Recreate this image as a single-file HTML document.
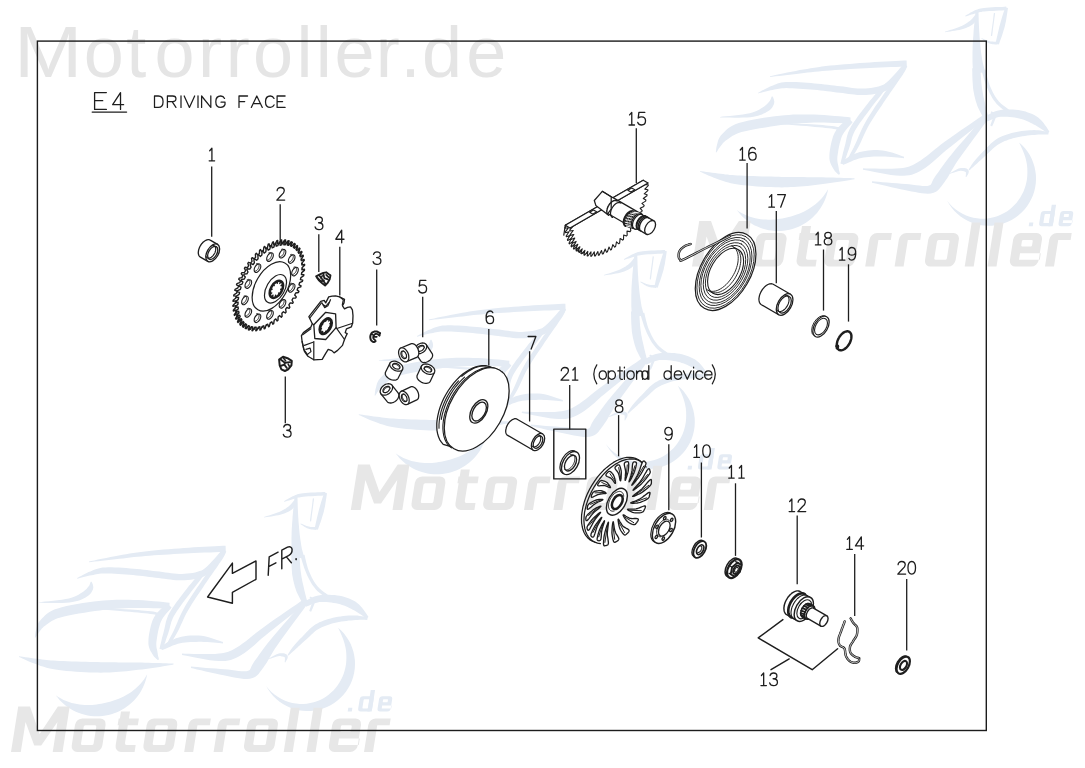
<!DOCTYPE html><html><head><meta charset="utf-8"><title>E4 Driving Face</title>
<style>html,body{margin:0;padding:0;background:#fff;}svg{display:block;}text{font-family:"Liberation Sans",sans-serif;}</style></head><body>
<svg width="1085" height="768" viewBox="0 0 1085 768">
<rect width="1085" height="768" fill="#fff"/>
<defs><g id="logo"><g fill="#e4ebf4"><path d="M770.1,76.9L772.4,76.7L775.5,76.3L779.2,75.9L783.3,75.4L787.6,74.9L792,74.4L796.3,73.9L800.2,73.5L804,73.1L807.6,72.6L811.2,72.2L814.9,71.8L818.6,71.4L822.4,71.1L826.4,70.7L830.6,70.4L835.1,70L839.9,69.7L844.9,69.4L850,69.1L855.1,68.8L860.3,68.5L865.3,68.3L870.2,68L875.1,67.8L880.4,67.5L885.7,67.3L891,67.1L895.9,66.9L900.3,66.7L904,66.6L906.8,66.4L906.6,60.4L903.7,60.5L900,60.7L895.6,60.9L890.7,61.2L885.4,61.4L880.1,61.7L874.8,62L869.8,62.4L865,62.7L859.9,63.1L854.8,63.5L849.6,63.9L844.5,64.3L839.5,64.7L834.7,65.2L830.2,65.6L825.9,66.1L821.9,66.6L818,67.2L814.3,67.7L810.7,68.3L807.1,68.9L803.5,69.5L799.8,70.1L795.8,70.9L791.6,71.7L787.2,72.6L782.9,73.5L778.9,74.3L775.3,75.1L772.2,75.8L769.9,76.3Z"/><path d="M758.3,93.4L759.4,93.1L760.9,92.7L762.7,92.3L764.6,91.8L766.7,91.3L768.7,90.8L770.7,90.3L772.6,89.9L774.3,89.6L775.9,89.3L777.4,88.9L778.9,88.7L780.4,88.5L782.1,88.3L784.1,88.2L786.4,88.1L789.1,88.2L792.3,88.3L795.7,88.5L799.4,88.7L803.1,88.9L806.9,89.2L810.6,89.5L814,89.8L817.3,90.1L820.6,90.5L823.8,90.8L827.1,91.2L830.3,91.6L833.4,92L836.6,92.4L839.6,92.7L842.6,93.1L845.5,93.5L848.5,93.9L851.4,94.3L854.3,94.6L857.2,94.9L860.2,95L863.1,95L866,94.9L868.9,94.7L871.8,94.4L874.7,94L877.5,93.5L880.2,92.8L882.9,92L885.4,90.9L887.7,89.7L889.9,88.2L891.8,86.5L893.5,84.8L895.1,83.1L896.6,81.4L898,79.7L899.3,78.2L900.6,76.6L901.9,74.9L903.1,73.1L904.2,71.4L905.2,69.8L906.1,68.4L906.8,67.3L907.4,66.4L903.6,63.6L902.9,64.5L902,65.6L901,66.9L899.9,68.3L898.7,69.8L897.4,71.3L896.1,72.8L894.7,74.2L893.3,75.7L891.9,77.2L890.5,78.8L889,80.3L887.5,81.8L886,83L884.4,84.2L882.6,85.1L880.7,85.8L878.5,86.5L876.1,87.1L873.6,87.6L871,87.9L868.3,88.2L865.6,88.4L862.9,88.6L860.3,88.6L857.7,88.4L855,88.2L852.2,87.9L849.4,87.5L846.4,87.1L843.4,86.6L840.4,86.3L837.3,85.9L834.2,85.6L831.1,85.2L827.9,84.8L824.6,84.4L821.3,84L818,83.7L814.6,83.4L811.1,83.1L807.4,82.8L803.6,82.5L799.8,82.3L796.1,82.1L792.5,82L789.2,82L786.2,82.1L783.6,82.3L781.4,82.6L779.4,83.1L777.6,83.6L776,84.2L774.5,84.8L773,85.4L771.4,86.1L769.6,86.8L767.7,87.7L765.7,88.7L763.8,89.7L762,90.6L760.4,91.5L759.1,92.3L758.1,92.8Z"/><path d="M720.1,117.5L722.5,117.5L725.9,117.6L729.9,117.6L734.3,117.7L738.8,117.7L743.2,117.6L747.2,117.5L750.5,117.2L753.3,116.8L755.8,116.3L758.1,115.7L760.1,115.1L762,114.4L763.6,113.6L765.1,112.9L766.6,112.1L768,111.3L769.2,110.4L770.4,109.4L771.4,108.4L772.2,107.4L772.9,106.3L773.4,105.3L773.9,104.2L774.2,102.9L774.3,101.6L774.1,100.4L773.9,99.4L773.5,98.4L773.2,97.6L772.9,97L772.7,96.5L771.7,96.5L771.5,97L771.2,97.7L771,98.5L770.7,99.3L770.3,100.1L769.9,100.8L769.5,101.3L769.1,101.8L768.6,102.3L768.1,102.9L767.5,103.6L766.9,104.2L766.2,104.8L765.4,105.5L764.5,106.2L763.4,106.9L762.2,107.7L760.9,108.5L759.5,109.4L758,110.2L756.4,111L754.5,111.8L752.3,112.5L749.9,113.2L746.8,113.8L742.9,114.4L738.6,114.9L734.2,115.4L729.8,115.9L725.8,116.3L722.5,116.6L720.1,116.9Z"/><path d="M716.4,152.4L716.7,151.9L717.2,151.2L717.7,150.4L718.2,149.5L718.8,148.6L719.5,147.7L720.1,146.8L720.8,145.9L721.5,145L722.2,144.2L722.8,143.3L723.5,142.6L724.2,141.9L724.9,141.3L725.8,140.6L727,139.8L728.4,138.8L729.8,137.7L731.2,136.7L732.6,135.8L734.3,134.9L736.2,133.9L738.6,133L741.5,132.1L745.1,131.2L749.6,130.2L754.5,129.2L759.9,128.3L765.4,127.4L770.8,126.5L776,125.7L780.9,125.1L785.3,124.5L789.6,124.1L793.7,123.7L797.8,123.4L801.8,123.1L805.9,122.9L810,122.8L814.3,122.6L818.9,122.6L823.9,122.6L829.1,122.7L834.3,122.9L839.2,123L843.7,123.2L847.4,123.3L850.2,123.4L850.6,117.4L847.8,117.1L844.1,116.8L839.6,116.3L834.7,115.9L829.5,115.4L824.2,115L819.1,114.7L814.3,114.6L810,114.5L805.7,114.4L801.5,114.4L797.3,114.5L793.1,114.6L788.8,114.9L784.4,115.2L779.7,115.7L774.8,116.3L769.4,117L763.8,117.8L758.2,118.8L752.7,119.8L747.6,120.8L742.8,121.9L738.7,123.1L735.3,124.3L732.3,125.7L729.7,127.2L727.6,128.7L725.9,130.2L724.5,131.7L723.2,133L722,134.2L720.8,135.6L719.8,137L719,138.4L718.4,139.7L718,140.9L717.7,142L717.5,143L717.2,144.1L716.9,145.2L716.6,146.4L716.4,147.6L716.2,148.8L716.1,149.8L716,150.8L715.9,151.6L715.8,152.2Z"/><path d="M848.2,118.1L847.2,119L845.8,120.2L844.1,121.7L842.2,123.4L840.1,125.4L838.1,127.5L836.3,129.9L834.8,132.5L833.5,135.3L832.5,138.3L831.6,141.4L830.9,144.6L830.3,147.7L829.8,150.7L829.5,153.5L829.4,156.1L829.4,158.4L829.7,160.6L830.2,162.5L830.8,164.1L831.5,165.6L832.2,166.8L832.9,167.9L833.5,168.9L834.1,170L834.9,171.1L835.7,172L836.5,172.8L837.2,173.4L837.9,173.9L838.4,174.4L838.8,174.7L840,174.1L839.8,173.5L839.7,172.8L839.5,172L839.2,171.1L839,170.2L838.8,169.2L838.7,168.2L838.5,167.1L838.3,165.8L838,164.5L837.7,163.3L837.5,162.1L837.4,160.9L837.3,159.6L837.3,158.2L837.4,156.5L837.7,154.4L838.1,151.9L838.5,149.2L839.1,146.3L839.7,143.4L840.5,140.7L841.2,138.2L842,136.1L843,134.2L844.2,132.2L845.7,130.3L847.3,128.3L848.9,126.5L850.3,124.9L851.6,123.4L852.6,122.3Z"/><path d="M903.5,65L903.3,65.5L903.2,66L903.1,66.3L903,66.6L902.7,67.1L902.3,68L901.5,69.2L900.4,70.9L898.8,73.2L896.9,75.9L894.6,79.1L892.1,82.5L889.5,86.1L886.9,89.7L884.3,93.3L882,96.7L879.8,100L877.5,103.3L875.2,106.6L873,110L870.9,113.3L868.8,116.5L866.8,119.8L865,122.9L863.4,125.9L861.9,129L860.5,131.9L859.3,134.8L858.1,137.6L857,140.2L855.9,142.7L854.8,145.1L853.7,147.4L852.5,149.7L851.3,151.9L850.2,154L849.2,156L848.2,157.7L847.4,159.2L846.8,160.3L849.2,161.7L849.9,160.6L850.8,159.2L851.9,157.6L853.1,155.7L854.4,153.7L855.8,151.5L857.1,149.2L858.4,146.9L859.7,144.5L860.9,142L862.1,139.3L863.3,136.6L864.6,133.8L865.9,130.9L867.4,128L869,125.1L870.8,122.1L872.7,119L874.8,115.8L876.9,112.5L879.1,109.2L881.4,105.9L883.6,102.6L885.8,99.3L888.1,95.9L890.6,92.3L893.1,88.7L895.7,85L898.1,81.6L900.3,78.3L902.3,75.5L903.8,73.1L904.9,71.2L905.7,69.7L906.2,68.6L906.4,67.6L906.5,66.9L906.5,66.4L906.5,66.2L906.5,66Z"/><path d="M888.2,81.3L887.7,81.8L887.1,82.3L886.4,82.9L885.5,83.6L884.5,84.5L883.4,85.5L882.2,86.7L880.8,88.1L879.3,89.8L877.7,91.7L875.8,93.8L873.9,96L871.9,98.4L869.8,100.8L867.8,103.4L865.8,105.9L863.9,108.5L861.8,111.2L859.6,114.1L857.4,117L855.4,119.9L853.4,122.8L851.6,125.6L850.1,128.2L848.9,130.7L848,133.1L847.3,135.3L846.7,137.4L846.3,139.4L845.9,141.3L845.5,143.3L845,145.3L844.4,147.6L843.7,150.2L843,152.8L842.4,155.5L841.8,158L841.2,160.2L840.8,162.1L840.4,163.5L843.6,164.5L844,163.1L844.7,161.2L845.4,159L846.3,156.6L847.1,154L848,151.5L848.9,149L849.6,146.7L850.3,144.5L850.8,142.5L851.3,140.5L851.8,138.6L852.3,136.8L853,134.9L853.8,132.9L854.9,130.8L856.3,128.4L858,125.8L859.8,123.1L861.9,120.2L864,117.3L866.1,114.5L868.2,111.7L870.2,109.1L872,106.6L873.9,104.1L875.9,101.6L877.8,99.2L879.6,96.9L881.3,94.7L882.8,92.7L884.2,90.9L885.3,89.3L886.3,87.9L887.1,86.7L887.8,85.7L888.4,84.7L888.9,83.9L889.4,83.2L889.8,82.7Z"/><path d="M770,123.4L773.2,123.6L777.7,124L783,124.4L788.9,124.8L794.9,125.3L800.9,125.7L806.3,126.1L810.9,126.5L814.9,126.9L818.8,127.3L822.4,127.6L825.7,128L828.7,128.3L831.4,128.6L833.8,129L835.7,129.3L837.1,129.7L838,130L838.3,130.3L838.4,130.4L838.4,130.4L838.4,130.7L838.6,131.3L838.9,131.8L841.1,130.2L841.1,130.2L841.1,130.2L841,129.7L840.7,129L840.1,128.2L839.2,127.6L837.9,127.1L836.3,126.7L834.2,126.3L831.8,126L829,125.7L825.9,125.4L822.6,125.1L819,124.8L815.1,124.5L811.1,124.3L806.4,124L801,123.7L795,123.5L789,123.3L783.1,123.1L777.8,122.9L773.3,122.7L770,122.6Z"/><path d="M843.3,164.8L844.7,164.2L846.6,163.4L848.8,162.4L851.2,161.4L853.7,160.3L856.3,159.4L858.9,158.5L861.2,157.9L863.6,157.5L866.2,157.2L868.8,156.9L871.5,156.7L874.2,156.6L876.9,156.6L879.7,156.5L882.3,156.5L885,156.6L888,156.7L891.1,157L894.2,157.2L897.2,157.5L899.9,157.8L902.2,158L903.9,158.2L904.1,156.8L902.5,156.3L900.4,155.5L897.9,154.6L895,153.6L892,152.6L888.8,151.7L885.7,150.9L882.7,150.5L879.8,150.2L876.9,150.1L874,150.1L871.1,150.3L868.2,150.5L865.3,150.9L862.5,151.4L859.8,152.1L857,152.9L854.2,154.1L851.5,155.4L849,156.8L846.6,158.2L844.5,159.4L842.8,160.5L841.5,161.2Z"/><path d="M699.9,171.6L701.4,172.3L703.4,173.2L705.7,174.2L708.3,175.4L711.1,176.6L713.9,177.7L716.7,178.8L719.3,179.8L721.7,180.6L723.9,181.3L726.1,182L728.4,182.6L730.8,183.2L733.5,183.8L736.4,184.3L739.7,184.8L743.5,185.2L747.7,185.6L752.3,186L757,186.4L761.8,186.7L766.4,186.9L770.8,187.1L774.9,187.3L778.5,187.3L781.8,187.4L784.9,187.3L787.9,187.3L790.8,187.1L793.8,187L796.8,186.8L800.2,186.5L803.7,186.2L807.5,185.9L811.3,185.5L815.2,185L819.1,184.5L823,184.1L826.7,183.6L830.2,183.1L833.6,182.6L837.2,182.1L840.8,181.6L844.2,181L847.4,180.5L850.3,180L852.7,179.6L854.5,179.3L854.5,178.3L852.6,178.2L850.2,178.1L847.3,178L844,177.9L840.5,177.8L837,177.7L833.3,177.6L829.8,177.5L826.3,177.4L822.6,177.3L818.7,177.3L814.8,177.2L810.9,177.2L807.1,177.2L803.4,177.1L799.8,177.1L796.6,177L793.5,177L790.6,177L787.7,177L784.9,176.9L781.9,176.9L778.7,176.8L775.1,176.7L771.2,176.6L766.8,176.5L762.2,176.4L757.5,176.3L752.8,176.1L748.3,176L744.2,175.8L740.5,175.6L737.4,175.4L734.6,175.3L732.1,175.1L729.8,174.9L727.6,174.6L725.4,174.4L723.1,174.1L720.7,173.8L718,173.5L715.1,173.1L712.1,172.7L709.2,172.3L706.4,171.9L703.8,171.5L701.7,171.2L700.1,171Z"/><path d="M862.9,169.7L865.9,170.2L869.9,171L874.7,172L880,173L885.5,174L890.9,174.9L895.9,175.5L900.1,175.7L903.6,175.7L906.5,175.6L909.2,175.2L911.8,174.7L914.3,173.8L916.8,172.8L919.3,171.4L922.3,169.8L925.5,167.7L928.8,165.2L932.2,162.5L935.6,159.6L939,156.5L942.6,153.3L946.4,150.1L950.3,146.9L954.7,143.5L959.7,139.5L965.1,135.3L970.5,131L975.7,127L980.5,123.3L984.5,120.2L987.4,117.9L984.6,114.1L981.5,116.2L977.4,119.1L972.4,122.5L967,126.2L961.3,130.1L955.7,134L950.4,137.7L945.7,141.1L941.6,144.1L937.6,147.2L933.8,150.3L930.2,153.2L926.8,155.9L923.6,158.3L920.6,160.4L917.7,162.2L915.1,163.7L912.9,164.9L911,165.8L909.3,166.5L907.5,167L905.5,167.5L902.9,167.9L899.9,168.3L896,168.6L891.3,168.8L886,168.8L880.5,168.7L875.1,168.6L870.2,168.5L866.1,168.4L863.1,168.3Z"/><path d="M871.9,182.7L874.5,183.3L877.9,184.1L882.1,185L886.7,186.1L891.4,187.2L896.2,188.3L900.6,189.2L904.6,190L908.1,190.7L911.6,191.4L915.1,192.1L918.4,192.8L921.7,193.3L924.9,193.6L927.9,193.7L930.9,193.5L933.6,192.8L936,191.7L938,190.2L939.6,188.6L940.8,187L942,185.5L943.1,183.9L944.4,182.2L945.9,180L947.5,177.7L949,175.2L950.5,172.5L952.1,169.7L953.9,166.7L956,163.3L958.5,159.6L961.6,155.2L965.4,150L969.6,144.2L974,138.2L978.3,132.4L982.2,127.1L985.5,122.7L987.8,119.5L984.2,116.5L981.5,119.5L977.9,123.7L973.6,128.6L968.9,134.1L964,139.7L959.3,145.1L955,150.1L951.5,154.4L948.6,158L946.1,161.3L943.9,164.3L941.9,167L940.1,169.5L938.6,171.8L937.1,173.8L935.6,175.8L934.2,178L933,180L932.2,181.7L931.7,183L931.3,183.8L930.9,184.4L930.3,185L929.1,185.5L927.4,185.9L925.1,186L922.5,185.9L919.5,185.6L916.2,185.2L912.7,184.8L909.1,184.3L905.4,184L901.4,183.7L896.9,183.3L892.1,183L887.2,182.6L882.5,182.2L878.3,181.8L874.7,181.5L872.1,181.3Z"/><path d="M950.1,173.8L951,173.5L952.1,173.1L953.4,172.7L954.9,172.2L956.4,171.7L957.9,171.3L959.2,171L960.2,170.8L961.2,170.8L962.1,170.9L963,171.1L963.8,171.3L964.6,171.5L965.1,171.7L965.5,172L965.6,172L965.7,171.9L965.9,172.2L965.9,172.9L965.9,173.8L965.9,174.7L965.8,175.6L965.7,176.4L965.7,176.9L966.3,177.1L966.6,176.6L967,176L967.4,175.2L967.9,174.4L968.4,173.4L968.7,172.4L968.8,171.2L968.4,170L967.6,169.2L966.6,168.6L965.6,168.2L964.5,168L963.4,167.9L962.2,167.9L961,168L959.8,168.2L958.5,168.6L957.1,169.2L955.7,169.9L954.2,170.7L952.9,171.4L951.6,172.2L950.6,172.8L949.9,173.2Z"/><path d="M945.2,32.2L946.4,32L948.1,31.7L950.2,31.4L952.4,31.1L954.8,30.7L957.1,30.3L959.3,29.9L961.2,29.4L962.9,28.9L964.5,28.4L966,27.9L967.5,27.3L968.9,26.7L970.2,26L971.4,25.3L972.6,24.5L973.7,23.5L974.7,22.4L975.5,21.3L976.2,20.2L976.8,19.2L977.3,18.3L977.7,17.5L978,17L975.2,15L974.7,15.5L974.2,16.2L973.6,17L972.9,17.8L972.2,18.7L971.4,19.5L970.6,20.3L969.8,20.9L968.9,21.6L967.9,22.3L966.9,23.1L965.7,23.8L964.5,24.5L963.1,25.2L961.7,25.9L960.2,26.6L958.5,27.3L956.5,28L954.3,28.8L952.1,29.5L949.9,30.1L947.9,30.7L946.3,31.3L945,31.6Z"/><path d="M965.5,16.6L966.3,16.3L967.3,16L968.6,15.5L970,15.1L971.4,14.6L972.9,14.2L974.2,13.8L975.5,13.4L976.6,13.1L977.6,12.8L978.4,12.5L979.3,12.3L980.2,12.1L981.3,11.9L982.7,11.6L984.4,11.4L986.6,11.2L989.5,11L992.6,10.9L995.9,10.7L999.1,10.5L1002.1,10.4L1004.6,10.2L1006.4,10.2L1006.2,6.6L1004.4,6.7L1001.9,6.9L999,7L995.7,7.1L992.4,7.3L989.2,7.5L986.4,7.7L984,8L982.2,8.2L980.7,8.5L979.4,8.7L978.4,9L977.4,9.4L976.5,9.7L975.6,10.1L974.5,10.6L973.2,11.2L971.9,11.9L970.5,12.6L969.2,13.4L967.9,14.2L966.8,14.8L965.8,15.4L965.1,15.8Z"/><path d="M1005.2,7.3L1004.7,8.6L1004.2,10.4L1003.5,12.5L1002.8,14.8L1002,17.3L1001.3,19.8L1000.6,22.3L999.9,24.7L999.3,27.1L998.7,29.7L998,32.4L997.4,35.2L996.8,37.7L996.3,40.1L995.8,42.1L995.5,43.5L998.9,44.5L999.4,43L1000,41.1L1000.8,38.9L1001.7,36.4L1002.6,33.7L1003.4,31L1004.2,28.4L1004.9,25.9L1005.4,23.5L1006,21L1006.4,18.3L1006.8,15.8L1007.2,13.3L1007.5,11.1L1007.8,9.3L1008,7.9Z"/><path d="M997.6,41.7L997,41.7L996.1,41.7L995.1,41.7L994,41.7L992.9,41.6L991.8,41.6L990.7,41.4L989.7,41.3L988.7,41L987.6,40.6L986.5,40.2L985.3,39.7L984.2,39.2L983.2,38.8L982.4,38.4L981.8,38.1L981.4,38.7L982,39.1L982.8,39.6L983.7,40.2L984.7,40.9L985.7,41.6L986.9,42.3L988,42.9L989.1,43.3L990.2,43.7L991.4,44L992.6,44.2L993.8,44.3L995,44.4L996,44.5L996.8,44.6L997.4,44.7Z"/><path d="M993.9,12.9L993.6,14.9L993.3,17.6L992.9,20.9L992.4,24.4L991.9,28L991.5,31.2L991.1,34L990.9,35.9L992.1,36.1L992.4,34.1L992.7,31.4L993.1,28.1L993.6,24.6L994.1,21L994.5,17.8L994.9,15L995.1,13.1Z"/><path d="M975.5,11.9L975.4,13.1L975.2,14.6L975,16.3L974.8,18.3L974.6,20.4L974.4,22.6L974.2,24.8L974,27L973.8,29.1L973.6,31.3L973.5,33.6L973.3,35.9L973.1,38.2L973,40.5L972.8,42.8L972.7,45.1L972.6,47.4L972.6,49.6L972.5,51.9L972.5,54.2L972.5,56.4L972.5,58.6L972.5,60.6L972.5,62.5L972.6,64.4L972.7,66.2L972.8,68L972.9,69.6L973.1,71L973.2,72.3L973.3,73.3L973.3,74.1L985.3,71.9L985,71.1L984.7,70L984.4,68.9L984,67.6L983.6,66.1L983.2,64.6L982.8,63.1L982.5,61.5L982.2,59.8L981.9,57.8L981.6,55.8L981.3,53.7L981,51.5L980.7,49.3L980.5,47.1L980.3,44.9L980.1,42.7L979.9,40.5L979.7,38.2L979.5,35.9L979.4,33.6L979.2,31.3L979.1,29.1L979,27L978.9,24.9L978.8,22.8L978.7,20.6L978.7,18.4L978.6,16.5L978.6,14.7L978.5,13.2L978.5,12.1Z"/><path d="M972.2,68.2L972.2,69.8L972.3,71.9L972.3,74.4L972.4,77.2L972.5,80.2L972.7,83.1L972.9,86L973.1,88.6L973.5,90.9L973.9,93.1L974.3,95.3L974.8,97.3L975.3,99.3L975.8,101.3L976.5,103.2L977.1,105.2L977.9,107.2L978.9,109.2L979.9,111.2L980.9,113.2L981.9,115L982.8,116.6L983.6,117.9L984.1,118.9L988.5,117.1L988.2,116L987.8,114.5L987.3,112.8L986.8,110.8L986.3,108.8L985.8,106.7L985.3,104.7L984.9,102.8L984.5,101L984.1,99.2L983.6,97.3L983.2,95.4L982.9,93.5L982.5,91.6L982.2,89.5L981.9,87.4L981.6,85.1L981.3,82.5L981.1,79.6L980.9,76.8L980.7,74L980.5,71.5L980.4,69.4L980.2,67.8Z"/><path d="M981.5,70.5L981.9,71.8L982.4,73.6L983,75.6L983.7,78L984.5,80.4L985.3,82.9L986.2,85.3L987.1,87.5L988,89.6L989,91.7L990,93.7L991.1,95.8L992.3,97.9L993.6,99.9L995,101.8L996.5,103.7L998.3,105.6L1000.5,107.4L1002.7,109.3L1005.1,111L1007.3,112.7L1009.4,114.1L1011,115.3L1012.3,116.2L1014.3,113.4L1013.1,112.5L1011.3,111.3L1009.3,109.9L1007.1,108.3L1004.8,106.6L1002.6,104.9L1000.6,103.2L998.9,101.5L997.5,99.8L996.2,98L995,96.2L993.9,94.3L992.8,92.3L991.9,90.3L991,88.3L990.1,86.3L989.3,84.2L988.5,81.8L987.9,79.4L987.2,77L986.7,74.7L986.2,72.6L985.8,70.8L985.5,69.5Z"/><path d="M987.1,121.5L988.2,121L989.6,120.4L991.2,119.7L993,118.9L994.9,118.2L996.8,117.6L998.7,117.1L1000.5,116.8L1002.5,116.7L1004.8,116.7L1007.2,116.8L1009.7,117L1012.2,117.3L1014.7,117.6L1017,118L1019.2,118.5L1021.2,119L1023.1,119.6L1025,120.3L1026.8,121L1028.6,121.8L1030.4,122.7L1032.1,123.5L1033.8,124.4L1035.5,125.3L1037.4,126.4L1039.4,127.7L1041.4,129L1043.3,130.3L1045,131.6L1046.4,132.6L1047.6,133.4L1049.4,131.4L1048.7,130.4L1047.7,128.9L1046.5,127.1L1045.1,125.2L1043.6,123.1L1041.9,121.1L1040.1,119.2L1038.2,117.6L1036.3,116.3L1034.3,115.1L1032.2,114.1L1030.1,113.2L1027.9,112.4L1025.6,111.6L1023.2,111L1020.8,110.5L1018.3,110.1L1015.6,109.8L1012.9,109.6L1010.1,109.5L1007.3,109.5L1004.6,109.6L1002,109.8L999.5,110.2L997.1,110.7L994.7,111.5L992.5,112.5L990.5,113.5L988.7,114.5L987.1,115.3L985.8,116.1L984.9,116.5Z"/><path d="M1048.6,131.9L1047.6,131.7L1046.2,131.5L1044.6,131.2L1042.7,130.9L1040.7,130.6L1038.5,130.3L1036.3,130.2L1034.1,130.1L1031.8,130.2L1029.4,130.3L1026.9,130.5L1024.2,130.8L1021.6,131.1L1019,131.5L1016.4,131.9L1014,132.5L1011.6,133.1L1009.3,133.7L1007,134.4L1004.8,135.2L1002.6,136.1L1000.4,137L998.3,138.1L996.3,139.3L994.3,140.7L992.4,142.2L990.6,143.8L989,145.4L987.4,147L985.9,148.7L984.4,150.2L983.1,151.6L981.7,153L980.4,154.3L979.1,155.7L977.9,157L976.8,158.3L975.7,159.5L974.7,160.7L973.8,161.8L972.9,163L972,164.2L971.3,165.3L970.6,166.4L969.9,167.4L969.4,168.3L969,169.1L968.6,169.7L969.4,170.3L969.9,169.9L970.6,169.3L971.3,168.6L972.2,167.8L973.2,166.9L974.2,166L975.2,165.1L976.2,164.2L977.3,163.2L978.5,162.1L979.6,161L980.9,159.9L982.2,158.7L983.5,157.5L984.9,156.3L986.3,155L987.8,153.6L989.4,152.1L991,150.6L992.5,149.1L994.2,147.6L995.8,146.2L997.4,145L999.1,143.9L1000.9,142.9L1002.8,142L1004.7,141.1L1006.7,140.4L1008.8,139.6L1010.9,138.9L1013,138.3L1015.2,137.7L1017.5,137.2L1019.9,136.7L1022.4,136.3L1024.9,135.9L1027.4,135.6L1029.8,135.3L1032.2,135.1L1034.3,134.9L1036.4,134.7L1038.4,134.6L1040.5,134.5L1042.4,134.5L1044.3,134.5L1045.9,134.5L1047.3,134.6L1048.4,134.5Z"/><path d="M990.5,112.2L990.9,112.6L991.3,113L991.8,113.5L992.3,114L992.7,114.5L993,115.1L993.1,115.5L993.2,116L993.1,116.8L992.8,118L992.4,119.4L991.9,120.8L991.4,122.3L990.9,123.7L990.5,124.8L990.3,125.6L992.1,126.4L992.5,125.6L993,124.5L993.6,123.2L994.2,121.7L994.8,120.2L995.4,118.7L995.7,117.3L995.8,116L995.6,114.8L995.1,113.8L994.4,113L993.6,112.4L992.9,112L992.3,111.7L991.8,111.4L991.5,111.2Z"/><path d="M1019.1,142.4L1022.2,145.3L1025,148.3L1027.5,151.6L1029.8,155.1L1031.7,158.8L1033.2,162.7L1034.5,166.7L1035.3,170.7L1035.9,174.9L1036,179L1035.8,183.2L1035.2,187.3L1034.3,191.3L1033,195.3L1031.3,199.1L1029.3,202.8L1027.1,206.2L1024.5,209.5L1021.6,212.5L1018.5,215.3L1015.2,217.8L1011.6,219.9L1007.9,221.8L1004,223.3L1000,224.4L995.9,225.3L991.8,225.7L987.6,225.8L983.5,225.5L979.4,224.9L975.4,223.8L971.4,222.5L967.6,220.8L964,218.8L960.6,216.4L957.3,213.8L954.4,210.9L951.7,207.7L949.2,204.3L947.1,200.8L947.1,200.8L949.8,204L952.7,206.9L955.8,209.5L959.1,211.8L962.5,213.8L966.1,215.4L969.7,216.7L973.3,217.7L977,218.3L980.6,218.7L984.3,218.7L987.8,218.4L991.3,217.8L994.7,217L997.9,216L1001.1,214.6L1004.1,213.1L1006.9,211.4L1009.6,209.4L1012.1,207.3L1014.4,205.1L1016.6,202.7L1018.5,200.1L1020.3,197.4L1021.9,194.6L1023.4,191.7L1024.6,188.6L1025.6,185.5L1026.4,182.3L1027,178.9L1027.3,175.5L1027.4,172.1L1027.3,168.5L1027,164.9L1026.3,161.3L1025.4,157.6L1024.2,153.9L1022.7,150.2L1021,146.5L1019.1,142.4Z"/><path d="M828.2,188.9L827.6,191.8L826.8,194.7L825.9,197.5L824.8,200.3L823.5,203L822.1,205.6L820.6,208.1L818.8,210.6L817,212.9L815,215.1L812.9,217.2L810.6,219.2L808.3,221L805.9,222.7L803.3,224.3L800.7,225.7L798,226.9L795.2,228L792.4,228.9L789.5,229.7L786.5,230.3L783.6,230.7L780.6,230.9L777.6,231L774.7,230.9L771.7,230.6L768.7,230.2L765.8,229.5L763,228.7L760.1,227.8L757.4,226.6L754.7,225.4L752.1,223.9L749.6,222.3L747.1,220.6L744.8,218.7L742.6,216.7L740.5,214.6L738.6,212.3L736.7,210L736.7,210L739.3,211.7L742,213.3L744.6,214.6L747.3,215.8L750,216.8L752.7,217.6L755.4,218.3L758,218.8L760.7,219.2L763.2,219.5L765.8,219.6L768.2,219.7L770.7,219.7L773.1,219.6L775.4,219.4L777.7,219.1L780,218.8L782.2,218.4L784.5,218L786.7,217.5L788.8,217L791,216.4L793.2,215.7L795.4,215L797.6,214.3L799.8,213.4L802,212.5L804.2,211.4L806.4,210.3L808.6,209L810.8,207.6L813,206.1L815.1,204.5L817.2,202.7L819.3,200.8L821.3,198.7L823.2,196.5L825,194.1L826.7,191.5L828.2,188.9Z"/></g><g fill="#e7e7e7" fill-rule="evenodd"><path transform="translate(692,266.6) skewX(-9)" d="M0,0V-45.5H11.8L25.8,-18L39.7,-45.5H51.5V0H41.7V-30L29.2,-6.5H22.2L9.8,-30V0Z"/><path transform="translate(751.7,266.6) skewX(-9)" d="M6.5,-33.5h17.6a6.5,6.5 0 0 1 6.5,6.5v20.5a6.5,6.5 0 0 1 -6.5,6.5h-17.6a6.5,6.5 0 0 1 -6.5,-6.5v-20.5a6.5,6.5 0 0 1 6.5,-6.5zM10.5,-26.7h9.6a1.5,1.5 0 0 1 1.5,1.5v16.9a1.5,1.5 0 0 1 -1.5,1.5h-9.6a1.5,1.5 0 0 1 -1.5,-1.5v-16.9a1.5,1.5 0 0 1 1.5,-1.5z"/><path transform="translate(795.6,266.6) skewX(-9)" d="M0,-6.5V-26.7H-1.2V-33.5H0V-40.5H9V-33.5H19V-26.7H9V-8.8a2,2 0 0 0 2,2H20V0H6.5a6.5,6.5 0 0 1 -6.5,-6.5Z"/><path transform="translate(823.4,266.6) skewX(-9)" d="M6.5,-33.5h17.6a6.5,6.5 0 0 1 6.5,6.5v20.5a6.5,6.5 0 0 1 -6.5,6.5h-17.6a6.5,6.5 0 0 1 -6.5,-6.5v-20.5a6.5,6.5 0 0 1 6.5,-6.5zM10.5,-26.7h9.6a1.5,1.5 0 0 1 1.5,1.5v16.9a1.5,1.5 0 0 1 -1.5,1.5h-9.6a1.5,1.5 0 0 1 -1.5,-1.5v-16.9a1.5,1.5 0 0 1 1.5,-1.5z"/><path transform="translate(865.2,266.6) skewX(-9)" d="M0,0V-27a6.5,6.5 0 0 1 6.5,-6.5H21.4V-26.7H9V0Z"/><path transform="translate(894.6,266.6) skewX(-9)" d="M0,0V-27a6.5,6.5 0 0 1 6.5,-6.5H21.4V-26.7H9V0Z"/><path transform="translate(924,266.6) skewX(-9)" d="M6.5,-33.5h17.6a6.5,6.5 0 0 1 6.5,6.5v20.5a6.5,6.5 0 0 1 -6.5,6.5h-17.6a6.5,6.5 0 0 1 -6.5,-6.5v-20.5a6.5,6.5 0 0 1 6.5,-6.5zM10.5,-26.7h9.6a1.5,1.5 0 0 1 1.5,1.5v16.9a1.5,1.5 0 0 1 -1.5,1.5h-9.6a1.5,1.5 0 0 1 -1.5,-1.5v-16.9a1.5,1.5 0 0 1 1.5,-1.5z"/><path transform="translate(964.7,266.6) skewX(-9)" d="M0,0V-44.2H9V0Z"/><path transform="translate(987.5,266.6) skewX(-9)" d="M0,0V-44.2H9V0Z"/><path transform="translate(1008.9,266.6) skewX(-9)" d="M6.5,-33.5h15.8a6.5,6.5 0 0 1 6.5,6.5v20.5a6.5,6.5 0 0 1 -6.5,6.5h-15.8a6.5,6.5 0 0 1 -6.5,-6.5v-20.5a6.5,6.5 0 0 1 6.5,-6.5zM10.2,-26.7h8.4a1.2,1.2 0 0 1 1.2,1.2v4.2a1.2,1.2 0 0 1 -1.2,1.2h-8.4a1.2,1.2 0 0 1 -1.2,-1.2v-4.2a1.2,1.2 0 0 1 1.2,-1.2zM9,-13.3H29.8V-6.8H9Z"/><path transform="translate(1045,266.6) skewX(-9)" d="M0,0V-27a6.5,6.5 0 0 1 6.5,-6.5H21.4V-26.7H9V0Z"/></g><g fill="#e4ebf4" fill-rule="evenodd" transform="translate(1028.7,226.2) skewX(-9) scale(0.456)"><path d="M0,0V-8H9V0Z"/><g transform="translate(22,0)"><path d="M6.5,-33.5h17.6a6.5,6.5 0 0 1 6.5,6.5v20.5a6.5,6.5 0 0 1 -6.5,6.5h-17.6a6.5,6.5 0 0 1 -6.5,-6.5v-20.5a6.5,6.5 0 0 1 6.5,-6.5zM10.5,-26.7h9.6a1.5,1.5 0 0 1 1.5,1.5v16.9a1.5,1.5 0 0 1 -1.5,1.5h-9.6a1.5,1.5 0 0 1 -1.5,-1.5v-16.9a1.5,1.5 0 0 1 1.5,-1.5z"/><path d="M21.1,0V-47H30.6V0Z"/></g><g transform="translate(64.5,0)"><path d="M6.5,-33.5h15.8a6.5,6.5 0 0 1 6.5,6.5v20.5a6.5,6.5 0 0 1 -6.5,6.5h-15.8a6.5,6.5 0 0 1 -6.5,-6.5v-20.5a6.5,6.5 0 0 1 6.5,-6.5zM10.2,-26.7h8.4a1.2,1.2 0 0 1 1.2,1.2v4.2a1.2,1.2 0 0 1 -1.2,1.2h-8.4a1.2,1.2 0 0 1 -1.2,-1.2v-4.2a1.2,1.2 0 0 1 1.2,-1.2zM9,-13.3H29.8V-6.8H9Z"/></g></g></g></defs>
<g font-size="72" fill="#e5e5e5"><text transform="translate(14.1,77) scale(1.14,1)">M</text><text y="77" x="83.7 126.3 154.4 198.1 225.7 253 296.6 315.8 334.4 375.8 400.4 421.9 466.2">otorroller.de</text></g>
<use href="#logo"/>
<use href="#logo" transform="translate(-681,485.3)"/>
<use href="#logo" transform="translate(-341.2,243.3)"/>
<rect x="37.4" y="41.1" width="948.9" height="689.4" fill="none" stroke="#1c1c1c" stroke-width="1.4"/>
<g fill="none" stroke="#1e1e1e" stroke-linecap="round" stroke-linejoin="round"><path transform="translate(94.6,92.6) scale(1.4)" stroke-width="0.93" d="M8.4,0H0V12H8.4M0,5.8H5.8"/><path transform="translate(112.4,92.6) scale(1.4)" stroke-width="0.93" d="M5.8,12V0L0.2,8.6H8"/><path d="M92.2,112.1H126.6" stroke-width="1.3"/><path transform="translate(154.5,96) scale(0.95)" stroke-width="1.32" d="M0,0V12H4C7.5,12 9,9.5 9,6C9,2.5 7.5,0 4,0H0"/><path transform="translate(167.4,96) scale(0.95)" stroke-width="1.32" d="M0,12V0H5.5C8,0 9,1.2 9,3C9,4.8 8,6 5.5,6H0M5,6L9,12"/><path transform="translate(181,96) scale(0.95)" stroke-width="1.32" d="M0,0V12"/><path transform="translate(184.2,96) scale(0.95)" stroke-width="1.32" d="M0,0L5.5,12L11,0"/><path transform="translate(198,96) scale(0.95)" stroke-width="1.32" d="M0,0V12"/><path transform="translate(201.6,96) scale(0.95)" stroke-width="1.32" d="M0,12V0L9.7,12V0"/><path transform="translate(215.8,96) scale(0.95)" stroke-width="1.32" d="M9.2,2.6C8.4,0.9 7,0 5.2,0C2,0 0,2.4 0,6C0,9.6 2,12 5.2,12C7.4,12 9,10.8 9.7,9V6.5H5.5"/><path transform="translate(239,96) scale(0.95)" stroke-width="1.32" d="M0,12V0H9M0,5.8H6"/><path transform="translate(251.3,96) scale(0.95)" stroke-width="1.32" d="M0,12L5.8,0L11.6,12M2,8H9.6"/><path transform="translate(265.5,96) scale(0.95)" stroke-width="1.32" d="M9,2.6C8.2,0.9 6.9,0 5.1,0C2,0 0,2.4 0,6C0,9.6 2,12 5.1,12C6.9,12 8.2,11.1 9,9.4"/><path transform="translate(277.1,96) scale(0.95)" stroke-width="1.32" d="M8.4,0H0V12H8.4M0,5.8H5.8"/></g><path d="M217.6,244.4L210.2,240.1L209.6,239.9L209.1,239.7L208.5,239.7L207.8,239.7L207.2,239.8L206.5,240L205.8,240.3L205.1,240.7L204.4,241.2L203.7,241.7L203,242.3L202.4,243L201.7,243.7L201.2,244.5L200.6,245.3L200.1,246.2L199.7,247.1L199.3,248L199,248.9L198.7,249.8L198.5,250.7L198.4,251.6L198.3,252.4L198.3,253.2L198.4,254L198.6,254.6L198.8,255.3L199.1,255.9L199.5,256.3L199.9,256.8L200.4,257.1L207.8,261.4Z" fill="#fff" stroke="#1e1e1e" stroke-width="1.32" stroke-linecap="round" stroke-linejoin="round" /><path d="M217.6,244.41A9.8,5.65 -60 1 1 207.8,261.39A9.8,5.65 -60 1 1 217.6,244.41Z" fill="#fff" stroke="#1e1e1e" stroke-width="1.32" stroke-linecap="round" stroke-linejoin="round" /><path d="M216.3,246.66A7.2,4.15 -60 1 1 209.1,259.14A7.2,4.15 -60 1 1 216.3,246.66Z" fill="none" stroke="#1e1e1e" stroke-width="1.32" stroke-linecap="round" stroke-linejoin="round" /><path d="M212.9,245.4L213.3,245.4L213.8,245.5L214.2,245.7L214.5,245.9L214.8,246.2L215.1,246.5L215.3,246.9L215.5,247.4L215.6,247.9L215.7,248.4L215.7,249L215.7,249.6L215.6,250.2L215.5,250.9L215.3,251.5L215.1,252.2L214.8,252.9L214.5,253.5L214.1,254.1L213.7,254.7L213.3,255.3L212.8,255.8L212.3,256.3L211.8,256.8L211.3,257.2L210.8,257.5L210.3,257.8L209.8,258L209.3,258.1L208.8,258.2L208.4,258.2L207.9,258.1L207.5,258L207.2,257.8L206.8,257.5L206.6,257.2L206.3,256.8" fill="none" stroke="#1e1e1e" stroke-width="1.19" stroke-linecap="round" stroke-linejoin="round" /><path d="M289.3,245L291.8,242L292.4,242.3L291,246L292.1,246.8L294.7,244L295.2,244.5L293.5,248.1L294.4,249.1L297.2,246.7L297.6,247.3L295.7,250.8L296.4,252L299.2,250L299.5,250.7L297.4,254L297.9,255.5L300.7,253.8L301,254.6L298.6,257.7L298.9,259.3L301.7,258.1L301.9,259L299.3,261.9L299.5,263.6L302.2,262.9L302.2,263.8L299.5,266.4L299.5,268.3L302.1,267.9L302,269L299.2,271.2L299,273.1L301.5,273.3L301.3,274.3L298.5,276.2L298,278.2L300.3,278.8L300,279.9L297.2,281.3L296.6,283.4L298.6,284.4L298.2,285.5L295.5,286.5L294.7,288.5L296.5,290L296,291.1L293.3,291.6L292.3,293.6L293.8,295.5L293.3,296.6L290.7,296.7L289.6,298.6L290.8,300.9L290.1,301.9L287.8,301.5L286.5,303.4L287.4,305.9L286.7,306.9L284.5,306.1L283.1,307.8L283.7,310.7L282.9,311.6L281,310.3L279.5,311.9L279.7,315L278.9,315.9L277.2,314.2L275.7,315.6L275.5,318.9L274.7,319.6L273.4,317.5L271.8,318.8L271.3,322.2L270.4,322.8L269.4,320.4L267.8,321.4L266.9,325L266,325.4L265.4,322.7L263.8,323.4L262.6,327.1L261.7,327.4L261.4,324.4L259.8,324.9L258.3,328.5L257.5,328.7L257.5,325.4L256,325.7L254.2,329.2L253.4,329.3L253.8,325.9L252.4,325.8L250.3,329.3L249.6,329.2L250.3,325.6L248.9,325.3L246.7,328.6L246,328.4L247,324.7L245.8,324.2L243.4,327.2L242.8,326.9L244.1,323.2L243.1,322.4L240.5,325.2L239.9,324.7L241.6,321.1L240.7,320.1L238,322.5L237.5,321.9L239.5,318.4L238.7,317.2L236,319.2L235.6,318.5L237.8,315.2L237.2,313.7L234.4,315.4L234.2,314.6L236.6,311.5L236.2,309.9L233.4,311.1L233.3,310.2L235.8,307.3L235.7,305.6L233,306.3L232.9,305.4L235.6,302.8L235.7,300.9L233.1,301.3L233.1,300.2L235.9,298L236.2,296.1L233.7,295.9L233.9,294.9L236.7,293L237.1,291L234.8,290.4L235.1,289.3L237.9,287.9L238.6,285.8L236.5,284.8L236.9,283.7L239.7,282.7L240.5,280.7L238.7,279.2L239.2,278.1L241.9,277.6L242.8,275.6L241.3,273.7L241.9,272.6L244.4,272.5L245.6,270.6L244.4,268.3L245,267.3L247.4,267.7L248.6,265.8L247.8,263.3L248.5,262.3L250.6,263.1L252,261.4L251.5,258.5L252.2,257.6L254.2,258.9L255.6,257.3L255.4,254.2L256.3,253.3L257.9,255L259.4,253.6L259.6,250.3L260.5,249.6L261.8,251.7L263.4,250.4L263.9,247L264.8,246.4L265.8,248.8L267.4,247.8L268.2,244.2L269.1,243.8L269.8,246.5L271.4,245.8L272.6,242.1L273.4,241.8L273.8,244.8L275.3,244.3L276.8,240.7L277.7,240.5L277.6,243.8L279.2,243.5L280.9,240L281.7,239.9L281.4,243.3L282.8,243.4L284.8,239.9L285.6,240L284.9,243.6L286.2,243.9L288.5,240.6L289.2,240.8L288.1,244.5Z" fill="#fff" stroke="#1e1e1e" stroke-width="1.38" stroke-linecap="round" stroke-linejoin="round" /><path d="M291.7,246.4L294.2,243.4L294.8,243.7L293.4,247.4L294.5,248.2L297.1,245.4L297.6,245.9L296,249.5L296.9,250.5L299.6,248.1L300,248.7L298.1,252.2L298.8,253.4L301.6,251.4L302,252.1L299.8,255.4L300.3,256.9L303.1,255.2L303.4,256L301,259.1L301.3,260.7L304.1,259.5L304.3,260.4L301.7,263.3L301.9,265L304.6,264.3L304.6,265.2L302,267.8L301.9,269.7L304.5,269.3L304.4,270.4L301.7,272.6L301.4,274.5L303.9,274.7L303.7,275.7L300.9,277.6L300.4,279.6L302.7,280.2L302.4,281.3L299.6,282.7L299,284.8L301.1,285.8L300.7,286.9L297.9,287.9L297.1,289.9L298.9,291.4L298.4,292.5L295.7,293L294.7,295L296.3,296.9L295.7,298L293.1,298.1L292,300L293.2,302.3L292.6,303.3L290.2,302.9L288.9,304.8L289.8,307.3L289.1,308.3L286.9,307.5L285.6,309.2L286.1,312.1L285.3,313L283.4,311.7L281.9,313.3L282.1,316.4L281.3,317.3L279.7,315.6L278.1,317L278,320.3L277.1,321L275.8,318.9L274.2,320.2L273.7,323.6L272.8,324.2L271.8,321.8L270.2,322.8L269.3,326.4L268.5,326.8L267.8,324.1L266.2,324.8L265,328.5L264.1,328.8L263.8,325.8L262.2,326.3L260.7,329.9L259.9,330.1L259.9,326.8L258.4,327.1L256.6,330.6L255.8,330.7L256.2,327.3L254.8,327.2L252.7,330.7L252,330.6L252.7,327L251.4,326.7L249.1,330L248.4,329.8L249.5,326.1L248.3,325.6L245.8,328.6L245.2,328.3L246.6,324.6L245.5,323.8L242.9,326.6L242.4,326.1L244,322.5L243.1,321.5L240.4,323.9L240,323.3L241.9,319.8L241.2,318.6L238.4,320.6L238,319.9L240.2,316.6L239.7,315.1L236.9,316.8L236.6,316L239,312.9L238.7,311.3L235.9,312.5L235.7,311.6L238.3,308.7L238.1,307L235.4,307.7L235.4,306.8L238,304.2L238.1,302.3L235.5,302.7L235.6,301.6L238.3,299.4L238.6,297.5L236.1,297.3L236.3,296.3L239.1,294.4L239.6,292.4L237.3,291.8L237.6,290.7L240.4,289.3L241,287.2L238.9,286.2L239.3,285.1L242.1,284.1L242.9,282.1L241.1,280.6L241.6,279.5L244.3,279L245.3,277L243.7,275.1L244.3,274L246.9,273.9L248,272L246.8,269.7L247.4,268.7L249.8,269.1L251.1,267.2L250.2,264.7L250.9,263.7L253.1,264.5L254.4,262.8L253.9,259.9L254.7,259L256.6,260.3L258.1,258.7L257.9,255.6L258.7,254.7L260.3,256.4L261.9,255L262,251.7L262.9,251L264.2,253.1L265.8,251.8L266.3,248.4L267.2,247.8L268.2,250.2L269.8,249.2L270.7,245.6L271.5,245.2L272.2,247.9L273.8,247.2L275,243.5L275.9,243.2L276.2,246.2L277.8,245.7L279.3,242.1L280.1,241.9L280.1,245.2L281.6,244.9L283.4,241.4L284.2,241.3L283.8,244.7L285.2,244.8L287.3,241.3L288,241.4L287.3,245L288.6,245.3L290.9,242L291.6,242.2L290.5,245.9Z" fill="#fff" stroke="#1e1e1e" stroke-width="1.38" stroke-linecap="round" stroke-linejoin="round" /><path d="M297.37,267.47A4.7,2.71 -60 1 1 292.67,275.61A4.7,2.71 -60 1 1 297.37,267.47Z" fill="none" stroke="#1e1e1e" stroke-width="1.1" stroke-linecap="round" stroke-linejoin="round" /><path d="M293.9,267.2L294.2,267.1L294.5,267L294.8,266.9L295,266.9L295.3,266.9L295.5,267L295.8,267.1L296,267.3L296.1,267.5L296.3,267.7L296.4,267.9L296.5,268.2L296.6,268.5L296.6,268.8L296.6,269.2L296.6,269.5L296.5,269.9L296.4,270.3L296.3,270.7L296.2,271.1L296,271.5L295.8,271.8L295.6,272.2L295.3,272.6L295.1,272.9L294.8,273.2L294.5,273.5L294.2,273.8L293.9,274L293.6,274.2L293.3,274.3L293,274.4L292.7,274.5L292.5,274.6L292.2,274.6L291.9,274.5" fill="none" stroke="#1e1e1e" stroke-width="0.99" stroke-linecap="round" stroke-linejoin="round" /><path d="M294.02,283.86A4.7,2.71 -60 1 1 289.32,292A4.7,2.71 -60 1 1 294.02,283.86Z" fill="none" stroke="#1e1e1e" stroke-width="1.1" stroke-linecap="round" stroke-linejoin="round" /><path d="M290.5,283.6L290.8,283.4L291.1,283.4L291.4,283.3L291.7,283.3L292,283.3L292.2,283.4L292.4,283.5L292.6,283.7L292.8,283.8L292.9,284.1L293.1,284.3L293.1,284.6L293.2,284.9L293.2,285.2L293.2,285.6L293.2,285.9L293.2,286.3L293.1,286.7L293,287.1L292.8,287.5L292.6,287.9L292.4,288.2L292.2,288.6L292,289L291.7,289.3L291.5,289.6L291.2,289.9L290.9,290.1L290.6,290.4L290.3,290.6L290,290.7L289.7,290.8L289.4,290.9L289.1,291L288.8,291L288.6,290.9" fill="none" stroke="#1e1e1e" stroke-width="0.99" stroke-linecap="round" stroke-linejoin="round" /><path d="M284.86,299.73A4.7,2.71 -60 1 1 280.16,307.87A4.7,2.71 -60 1 1 284.86,299.73Z" fill="none" stroke="#1e1e1e" stroke-width="1.1" stroke-linecap="round" stroke-linejoin="round" /><path d="M281.4,299.4L281.7,299.3L282,299.2L282.3,299.2L282.5,299.2L282.8,299.2L283,299.3L283.3,299.4L283.4,299.5L283.6,299.7L283.8,299.9L283.9,300.2L284,300.5L284.1,300.8L284.1,301.1L284.1,301.4L284.1,301.8L284,302.2L283.9,302.6L283.8,302.9L283.6,303.3L283.5,303.7L283.3,304.1L283.1,304.5L282.8,304.8L282.6,305.2L282.3,305.5L282,305.8L281.7,306L281.4,306.2L281.1,306.4L280.8,306.6L280.5,306.7L280.2,306.8L279.9,306.8L279.7,306.8L279.4,306.8" fill="none" stroke="#1e1e1e" stroke-width="0.99" stroke-linecap="round" stroke-linejoin="round" /><path d="M272.34,310.83A4.7,2.71 -60 1 1 267.64,318.97A4.7,2.71 -60 1 1 272.34,310.83Z" fill="none" stroke="#1e1e1e" stroke-width="1.1" stroke-linecap="round" stroke-linejoin="round" /><path d="M268.9,310.5L269.2,310.4L269.5,310.3L269.7,310.3L270,310.3L270.3,310.3L270.5,310.4L270.7,310.5L270.9,310.6L271.1,310.8L271.3,311L271.4,311.3L271.5,311.6L271.5,311.9L271.6,312.2L271.6,312.5L271.5,312.9L271.5,313.3L271.4,313.7L271.3,314L271.1,314.4L271,314.8L270.8,315.2L270.5,315.6L270.3,315.9L270.1,316.3L269.8,316.6L269.5,316.9L269.2,317.1L268.9,317.3L268.6,317.5L268.3,317.7L268,317.8L267.7,317.9L267.4,317.9L267.2,317.9L266.9,317.9" fill="none" stroke="#1e1e1e" stroke-width="0.99" stroke-linecap="round" stroke-linejoin="round" /><path d="M259.83,314.19A4.7,2.71 -60 1 1 255.13,322.33A4.7,2.71 -60 1 1 259.83,314.19Z" fill="none" stroke="#1e1e1e" stroke-width="1.1" stroke-linecap="round" stroke-linejoin="round" /><path d="M256.4,313.9L256.7,313.8L256.9,313.7L257.2,313.6L257.5,313.6L257.8,313.7L258,313.7L258.2,313.8L258.4,314L258.6,314.2L258.7,314.4L258.9,314.6L259,314.9L259,315.2L259.1,315.5L259.1,315.9L259,316.3L259,316.6L258.9,317L258.8,317.4L258.6,317.8L258.5,318.2L258.3,318.6L258,318.9L257.8,319.3L257.5,319.6L257.3,319.9L257,320.2L256.7,320.5L256.4,320.7L256.1,320.9L255.8,321L255.5,321.2L255.2,321.2L254.9,321.3L254.6,321.3L254.4,321.2" fill="none" stroke="#1e1e1e" stroke-width="0.99" stroke-linecap="round" stroke-linejoin="round" /><path d="M250.67,308.9A4.7,2.71 -60 1 1 245.97,317.04A4.7,2.71 -60 1 1 250.67,308.9Z" fill="none" stroke="#1e1e1e" stroke-width="1.1" stroke-linecap="round" stroke-linejoin="round" /><path d="M247.2,308.6L247.5,308.5L247.8,308.4L248.1,308.3L248.3,308.3L248.6,308.4L248.8,308.4L249.1,308.6L249.3,308.7L249.4,308.9L249.6,309.1L249.7,309.3L249.8,309.6L249.9,309.9L249.9,310.3L249.9,310.6L249.9,311L249.8,311.3L249.7,311.7L249.6,312.1L249.5,312.5L249.3,312.9L249.1,313.3L248.9,313.6L248.6,314L248.4,314.3L248.1,314.6L247.8,314.9L247.5,315.2L247.2,315.4L246.9,315.6L246.6,315.8L246.3,315.9L246,316L245.8,316L245.5,316L245.2,316" fill="none" stroke="#1e1e1e" stroke-width="0.99" stroke-linecap="round" stroke-linejoin="round" /><path d="M247.33,296.39A4.7,2.71 -60 1 1 242.63,304.53A4.7,2.71 -60 1 1 247.33,296.39Z" fill="none" stroke="#1e1e1e" stroke-width="1.1" stroke-linecap="round" stroke-linejoin="round" /><path d="M243.9,296.1L244.1,296L244.4,295.9L244.7,295.8L245,295.8L245.3,295.9L245.5,295.9L245.7,296L245.9,296.2L246.1,296.4L246.2,296.6L246.4,296.8L246.5,297.1L246.5,297.4L246.6,297.7L246.6,298.1L246.5,298.5L246.5,298.8L246.4,299.2L246.3,299.6L246.1,300L245.9,300.4L245.7,300.8L245.5,301.1L245.3,301.5L245,301.8L244.8,302.1L244.5,302.4L244.2,302.7L243.9,302.9L243.6,303.1L243.3,303.2L243,303.4L242.7,303.4L242.4,303.5L242.1,303.5L241.9,303.4" fill="none" stroke="#1e1e1e" stroke-width="0.99" stroke-linecap="round" stroke-linejoin="round" /><path d="M250.68,280A4.7,2.71 -60 1 1 245.98,288.14A4.7,2.71 -60 1 1 250.68,280Z" fill="none" stroke="#1e1e1e" stroke-width="1.1" stroke-linecap="round" stroke-linejoin="round" /><path d="M247.2,279.7L247.5,279.6L247.8,279.5L248.1,279.4L248.4,279.4L248.6,279.5L248.9,279.5L249.1,279.7L249.3,279.8L249.5,280L249.6,280.2L249.7,280.4L249.8,280.7L249.9,281L249.9,281.4L249.9,281.7L249.9,282.1L249.8,282.4L249.7,282.8L249.6,283.2L249.5,283.6L249.3,284L249.1,284.4L248.9,284.7L248.6,285.1L248.4,285.4L248.1,285.7L247.8,286L247.5,286.3L247.2,286.5L246.9,286.7L246.6,286.9L246.3,287L246.1,287.1L245.8,287.1L245.5,287.1L245.2,287.1" fill="none" stroke="#1e1e1e" stroke-width="0.99" stroke-linecap="round" stroke-linejoin="round" /><path d="M259.84,264.13A4.7,2.71 -60 1 1 255.14,272.27A4.7,2.71 -60 1 1 259.84,264.13Z" fill="none" stroke="#1e1e1e" stroke-width="1.1" stroke-linecap="round" stroke-linejoin="round" /><path d="M256.4,263.8L256.7,263.7L257,263.6L257.2,263.6L257.5,263.6L257.8,263.6L258,263.7L258.2,263.8L258.4,263.9L258.6,264.1L258.8,264.3L258.9,264.6L259,264.9L259,265.2L259.1,265.5L259.1,265.8L259,266.2L259,266.6L258.9,267L258.8,267.4L258.6,267.7L258.5,268.1L258.3,268.5L258,268.9L257.8,269.2L257.6,269.6L257.3,269.9L257,270.2L256.7,270.4L256.4,270.6L256.1,270.8L255.8,271L255.5,271.1L255.2,271.2L254.9,271.2L254.7,271.2L254.4,271.2" fill="none" stroke="#1e1e1e" stroke-width="0.99" stroke-linecap="round" stroke-linejoin="round" /><path d="M272.36,253.03A4.7,2.71 -60 1 1 267.66,261.17A4.7,2.71 -60 1 1 272.36,253.03Z" fill="none" stroke="#1e1e1e" stroke-width="1.1" stroke-linecap="round" stroke-linejoin="round" /><path d="M268.9,252.7L269.2,252.6L269.5,252.5L269.8,252.5L270,252.5L270.3,252.5L270.5,252.6L270.8,252.7L271,252.8L271.1,253L271.3,253.2L271.4,253.5L271.5,253.8L271.6,254.1L271.6,254.4L271.6,254.7L271.6,255.1L271.5,255.5L271.4,255.9L271.3,256.3L271.1,256.6L271,257L270.8,257.4L270.6,257.8L270.3,258.1L270.1,258.5L269.8,258.8L269.5,259.1L269.2,259.3L268.9,259.5L268.6,259.7L268.3,259.9L268,260L267.7,260.1L267.4,260.1L267.2,260.1L266.9,260.1" fill="none" stroke="#1e1e1e" stroke-width="0.99" stroke-linecap="round" stroke-linejoin="round" /><path d="M284.87,249.67A4.7,2.71 -60 1 1 280.17,257.81A4.7,2.71 -60 1 1 284.87,249.67Z" fill="none" stroke="#1e1e1e" stroke-width="1.1" stroke-linecap="round" stroke-linejoin="round" /><path d="M281.4,249.4L281.7,249.3L282,249.2L282.3,249.1L282.5,249.1L282.8,249.1L283,249.2L283.3,249.3L283.5,249.5L283.6,249.7L283.8,249.9L283.9,250.1L284,250.4L284.1,250.7L284.1,251L284.1,251.4L284.1,251.7L284,252.1L283.9,252.5L283.8,252.9L283.7,253.3L283.5,253.7L283.3,254L283.1,254.4L282.8,254.8L282.6,255.1L282.3,255.4L282,255.7L281.7,256L281.4,256.2L281.1,256.4L280.8,256.5L280.5,256.6L280.2,256.7L280,256.8L279.7,256.8L279.4,256.7" fill="none" stroke="#1e1e1e" stroke-width="0.99" stroke-linecap="round" stroke-linejoin="round" /><path d="M294.03,254.96A4.7,2.71 -60 1 1 289.33,263.1A4.7,2.71 -60 1 1 294.03,254.96Z" fill="none" stroke="#1e1e1e" stroke-width="1.1" stroke-linecap="round" stroke-linejoin="round" /><path d="M290.5,254.7L290.8,254.5L291.1,254.5L291.4,254.4L291.7,254.4L292,254.4L292.2,254.5L292.4,254.6L292.6,254.8L292.8,254.9L292.9,255.2L293.1,255.4L293.2,255.7L293.2,256L293.3,256.3L293.3,256.7L293.2,257L293.2,257.4L293.1,257.8L293,258.2L292.8,258.6L292.6,259L292.4,259.3L292.2,259.7L292,260.1L291.7,260.4L291.5,260.7L291.2,261L290.9,261.2L290.6,261.5L290.3,261.7L290,261.8L289.7,261.9L289.4,262L289.1,262.1L288.8,262.1L288.6,262" fill="none" stroke="#1e1e1e" stroke-width="0.99" stroke-linecap="round" stroke-linejoin="round" /><path d="M284.9,263.02A27,15.58 -60 1 1 257.9,309.78A27,15.58 -60 1 1 284.9,263.02Z" fill="none" stroke="#1e1e1e" stroke-width="1.21" stroke-linecap="round" stroke-linejoin="round" /><path d="M283.3,275.29A15.6,9 -60 1 1 267.7,302.31A15.6,9 -60 1 1 283.3,275.29Z" fill="#fff" stroke="#1e1e1e" stroke-width="1.21" stroke-linecap="round" stroke-linejoin="round" /><path d="M281.05,281.25A9.3,5.37 -60 1 1 271.75,297.35A9.3,5.37 -60 1 1 281.05,281.25Z" fill="#fff" stroke="#1e1e1e" stroke-width="2.53" stroke-linecap="round" stroke-linejoin="round" /><path d="M281,281.2L279.8,283.4" fill="none" stroke="#1e1e1e" stroke-width="1.43" stroke-linecap="round" stroke-linejoin="round" /><path d="M282.9,284.4L281.1,285.7" fill="none" stroke="#1e1e1e" stroke-width="1.43" stroke-linecap="round" stroke-linejoin="round" /><path d="M282.3,289.4L280.7,289.3" fill="none" stroke="#1e1e1e" stroke-width="1.43" stroke-linecap="round" stroke-linejoin="round" /><path d="M279.4,294.3L278.6,293" fill="none" stroke="#1e1e1e" stroke-width="1.43" stroke-linecap="round" stroke-linejoin="round" /><path d="M275.4,297.4L275.6,295.2" fill="none" stroke="#1e1e1e" stroke-width="1.43" stroke-linecap="round" stroke-linejoin="round" /><path d="M271.8,297.4L273,295.2" fill="none" stroke="#1e1e1e" stroke-width="1.43" stroke-linecap="round" stroke-linejoin="round" /><path d="M269.9,294.2L271.7,292.9" fill="none" stroke="#1e1e1e" stroke-width="1.43" stroke-linecap="round" stroke-linejoin="round" /><path d="M270.5,289.2L272.1,289.3" fill="none" stroke="#1e1e1e" stroke-width="1.43" stroke-linecap="round" stroke-linejoin="round" /><path d="M273.4,284.3L274.2,285.6" fill="none" stroke="#1e1e1e" stroke-width="1.43" stroke-linecap="round" stroke-linejoin="round" /><path d="M277.4,281.2L277.2,283.4" fill="none" stroke="#1e1e1e" stroke-width="1.43" stroke-linecap="round" stroke-linejoin="round" /><path d="M316.1,276.3L319.9,274.4L323.3,272.9L326.2,272.3L328.5,274L330.5,275.2L329.7,279.2L327.4,283.2L325.1,285.5L322.2,283.2L318.8,280.3Z" fill="#fff" stroke="#1e1e1e" stroke-width="1.87" stroke-linecap="round" stroke-linejoin="round" /><path d="M319.3,275.5L322.2,279.2L325.4,283.8" fill="none" stroke="#1e1e1e" stroke-width="1.76" stroke-linecap="round" stroke-linejoin="round" /><path d="M323.3,273.5L324.3,278.1L327.9,279.4" fill="none" stroke="#1e1e1e" stroke-width="1.76" stroke-linecap="round" stroke-linejoin="round" /><path d="M326.2,274.8L328.5,277.1" fill="none" stroke="#1e1e1e" stroke-width="1.65" stroke-linecap="round" stroke-linejoin="round" /><path d="M317.4,277.8L321.1,281.3L323.9,280.3" fill="none" stroke="#1e1e1e" stroke-width="1.76" stroke-linecap="round" stroke-linejoin="round" /><path d="M322.2,275.8L321.1,278.1" fill="none" stroke="#1e1e1e" stroke-width="1.54" stroke-linecap="round" stroke-linejoin="round" /><path d="M380.1,333.3L379.8,333.2L379.4,332.9L379,332.6L378.5,332.3L377.9,332L377.4,331.7L376.8,331.5L376.3,331.4L375.8,331.4L375.3,331.4L374.8,331.5L374.2,331.6L373.7,331.8L373.2,332L372.7,332.3L372.3,332.5L372,332.8L371.6,333.2L371.3,333.6L371.1,334.1L370.8,334.5L370.6,335L370.5,335.5L370.4,336L370.3,336.5L370.3,337L370.3,337.5L370.4,338.1L370.5,338.6L370.6,339.1L370.8,339.6L370.9,340L371.2,340.4L371.5,340.7L371.8,341L372.2,341.3L372.5,341.6L372.9,341.8L373.3,341.9L373.6,342L373.9,342.1L374.2,342L374.5,341.9L374.8,341.7L375,341.5L375.3,341.4L375.5,341.2L375.6,341.1" fill="none" stroke="#1e1e1e" stroke-width="1.98" stroke-linecap="round" stroke-linejoin="round" /><path d="M379.5,335.6L379.3,335.5L378.9,335.2L378.5,334.9L378.1,334.6L377.6,334.3L377.2,334L376.7,333.9L376.3,333.8L376,333.8L375.6,333.9L375.2,334.1L374.9,334.3L374.6,334.5L374.3,334.8L374,335.1L373.8,335.4L373.6,335.7L373.5,336L373.4,336.4L373.3,336.8L373.2,337.2L373.2,337.6L373.3,337.9L373.3,338.3L373.5,338.6L373.7,338.9L374,339.1L374.4,339.4L374.7,339.7L375,339.9L375.2,340.1L375.4,340.2" fill="none" stroke="#1e1e1e" stroke-width="1.76" stroke-linecap="round" stroke-linejoin="round" /><path d="M373.6,336.8L376.8,336.8" fill="none" stroke="#1e1e1e" stroke-width="1.65" stroke-linecap="round" stroke-linejoin="round" /><path d="M380.1,333.3L379.5,335.6" fill="none" stroke="#1e1e1e" stroke-width="1.54" stroke-linecap="round" stroke-linejoin="round" /><path d="M371.5,334.2L373.8,335.4" fill="none" stroke="#1e1e1e" stroke-width="1.43" stroke-linecap="round" stroke-linejoin="round" /><path d="M279.1,359.5L283,356.7L287.5,358.2L291.8,360.8L291.4,365.4L288.2,369.3L284.9,371L281.4,369.3L279.7,365.4Z" fill="#fff" stroke="#1e1e1e" stroke-width="1.98" stroke-linecap="round" stroke-linejoin="round" /><path d="M280.6,359.5L284.9,362.8L290.1,362.1" fill="none" stroke="#1e1e1e" stroke-width="1.87" stroke-linecap="round" stroke-linejoin="round" /><path d="M280.4,366L284.3,364.7L286.9,368" fill="none" stroke="#1e1e1e" stroke-width="1.87" stroke-linecap="round" stroke-linejoin="round" /><path d="M284.9,362.8L284.3,364.7" fill="none" stroke="#1e1e1e" stroke-width="1.65" stroke-linecap="round" stroke-linejoin="round" /><path d="M283,357.6L285.6,360.8" fill="none" stroke="#1e1e1e" stroke-width="1.54" stroke-linecap="round" stroke-linejoin="round" /><path d="M288.2,364.1L289.5,366.7" fill="none" stroke="#1e1e1e" stroke-width="1.54" stroke-linecap="round" stroke-linejoin="round" /><path d="M328.7,296.9L332.1,296.1L335.6,295.9L339.6,296.9L344.5,299.4L344,302.9L342.5,305.8L344.5,308.8L347.5,307.3L350.5,306.8L352.4,309.8L353,315.7L352.7,322.7L351.4,326.8L346.5,328.8L345.2,332.6L347.2,333.6L345.8,336.5L344.5,339.5L342.5,345.4L337.6,350.4L334.1,352.9L331.8,350.6L328.2,349.4L325.7,353.4L322.2,359.3L313.8,359.8L307.9,356.3L304.4,351.4L302.1,341.5L301.4,335.5L303.4,332.6L310.9,327.1L312.3,323.7L308.9,316.7L320.8,301.4L324.2,300.4L325.7,302.9Z" fill="#fff" stroke="#1e1e1e" stroke-width="1.32" stroke-linecap="round" stroke-linejoin="round" /><path d="M309.9,318L321.3,303.1" fill="none" stroke="#1e1e1e" stroke-width="1.21" stroke-linecap="round" stroke-linejoin="round" /><path d="M302.7,334.8L310.9,328.8" fill="none" stroke="#1e1e1e" stroke-width="1.21" stroke-linecap="round" stroke-linejoin="round" /><path d="M321.9,302.7L324.7,307.6L327.9,305.8L330.5,299.7" fill="none" stroke="#1e1e1e" stroke-width="1.21" stroke-linecap="round" stroke-linejoin="round" /><path d="M323.2,304.9L325.7,306.3L329.2,302.4" fill="none" stroke="#1e1e1e" stroke-width="1.21" stroke-linecap="round" stroke-linejoin="round" /><path d="M312.3,323.7L313.8,324.7" fill="none" stroke="#1e1e1e" stroke-width="1.21" stroke-linecap="round" stroke-linejoin="round" /><path d="M336.1,327.6L344.5,339.5" fill="none" stroke="#1e1e1e" stroke-width="1.21" stroke-linecap="round" stroke-linejoin="round" /><path d="M337.6,328.2L352.6,323.2" fill="none" stroke="#1e1e1e" stroke-width="1.21" stroke-linecap="round" stroke-linejoin="round" /><path d="M313.8,341.5L313.8,359.8" fill="none" stroke="#1e1e1e" stroke-width="1.21" stroke-linecap="round" stroke-linejoin="round" /><path d="M304.4,345.4L313,342.3" fill="none" stroke="#1e1e1e" stroke-width="1.21" stroke-linecap="round" stroke-linejoin="round" /><path d="M305.9,349.4L310.1,348.2L311,351.6L308.1,353.9" fill="none" stroke="#1e1e1e" stroke-width="1.21" stroke-linecap="round" stroke-linejoin="round" /><path d="M339.6,296.9L343.3,299.9L342.3,304.9" fill="none" stroke="#1e1e1e" stroke-width="1.21" stroke-linecap="round" stroke-linejoin="round" /><path d="M302.1,341.5L303.7,349.4L307.7,354.9" fill="none" stroke="#1e1e1e" stroke-width="1.21" stroke-linecap="round" stroke-linejoin="round" /><path d="M325.7,312.3L335.6,313.8L336.1,327.6L325.7,339.5L314.8,338.5L313.8,324.7Z" fill="none" stroke="#1e1e1e" stroke-width="1.32" stroke-linecap="round" stroke-linejoin="round" /><path d="M329.85,319.01A8.3,4.79 -60 1 1 321.55,333.39A8.3,4.79 -60 1 1 329.85,319.01Z" fill="#fff" stroke="#1e1e1e" stroke-width="2.97" stroke-linecap="round" stroke-linejoin="round" /><path d="M329.8,319L328.7,321" fill="none" stroke="#1e1e1e" stroke-width="1.32" stroke-linecap="round" stroke-linejoin="round" /><path d="M331.6,322.8L329.9,323.7" fill="none" stroke="#1e1e1e" stroke-width="1.32" stroke-linecap="round" stroke-linejoin="round" /><path d="M329.8,328.6L328.7,327.9" fill="none" stroke="#1e1e1e" stroke-width="1.32" stroke-linecap="round" stroke-linejoin="round" /><path d="M325.7,333L325.7,331.1" fill="none" stroke="#1e1e1e" stroke-width="1.32" stroke-linecap="round" stroke-linejoin="round" /><path d="M321.6,333.4L322.7,331.4" fill="none" stroke="#1e1e1e" stroke-width="1.32" stroke-linecap="round" stroke-linejoin="round" /><path d="M319.8,329.6L321.5,328.7" fill="none" stroke="#1e1e1e" stroke-width="1.32" stroke-linecap="round" stroke-linejoin="round" /><path d="M321.6,323.8L322.7,324.5" fill="none" stroke="#1e1e1e" stroke-width="1.32" stroke-linecap="round" stroke-linejoin="round" /><path d="M325.7,319.4L325.7,321.3" fill="none" stroke="#1e1e1e" stroke-width="1.32" stroke-linecap="round" stroke-linejoin="round" /><path d="M414.9,352.1L420.7,360.9L421.3,361.5L421.9,362L422.8,362.3L423.7,362.5L424.7,362.5L425.8,362.3L426.8,362L427.9,361.5L428.9,360.9L429.9,360.2L430.7,359.4L431.4,358.5L432,357.6L432.4,356.7L432.6,355.8L432.6,354.9L432.4,354.1L432,353.3L426.2,344.6Z" fill="#fff" stroke="#1e1e1e" stroke-width="1.26" stroke-linecap="round" stroke-linejoin="round" /><path d="M414.9,352.1L415.4,352.8L416.1,353.2L416.9,353.6L417.9,353.7L418.9,353.7L419.9,353.6L421,353.3L422.1,352.8L423.1,352.2L424.1,351.5L424.9,350.7L425.6,349.8L426.1,348.9L426.5,347.9L426.7,347L426.7,346.1L426.6,345.3L426.2,344.6L425.7,344L425,343.5L424.2,343.2L423.2,343L422.2,343L421.2,343.2L420.1,343.5L419,344L418,344.5L417.1,345.3L416.2,346.1L415.5,346.9L415,347.9L414.6,348.8L414.4,349.7L414.4,350.6L414.5,351.4Z" fill="#fff" stroke="#1e1e1e" stroke-width="1.26" stroke-linecap="round" stroke-linejoin="round" /><path d="M417.2,350.6L417.6,351L418.1,351.2L418.7,351.4L419.4,351.4L420.1,351.3L420.8,351L421.6,350.7L422.3,350.2L422.9,349.7L423.4,349.1L423.8,348.4L424.1,347.8L424.2,347.2L424.1,346.6L423.9,346.2L423.5,345.8L423,345.5L422.4,345.4L421.8,345.3L421,345.5L420.3,345.7L419.5,346.1L418.8,346.5L418.2,347.1L417.7,347.7L417.3,348.3L417,348.9L417,349.6L417,350.1Z" fill="none" stroke="#1e1e1e" stroke-width="1.21" stroke-linecap="round" stroke-linejoin="round" /><path d="M424.4,347.4L424.2,347L423.9,346.7L423.6,346.5L423.1,346.3L422.6,346.2L422.1,346.3L421.5,346.4L420.9,346.5L420.3,346.8L419.7,347.1L419.2,347.5L418.7,348L418.3,348.5L418,349L417.8,349.5L417.7,350L417.6,350.4L417.7,350.9L417.9,351.2L418.2,351.5" fill="none" stroke="#1e1e1e" stroke-width="0.99" stroke-linecap="round" stroke-linejoin="round" /><path d="M406.6,361.6L416.6,357.4L417.2,357L417.8,356.4L418.3,355.6L418.6,354.7L418.8,353.6L418.8,352.4L418.6,351.2L418.3,350L417.9,348.8L417.3,347.6L416.7,346.6L415.9,345.6L415.1,344.8L414.2,344.2L413.3,343.8L412.4,343.6L411.6,343.6L410.8,343.8L400.8,348Z" fill="#fff" stroke="#1e1e1e" stroke-width="1.26" stroke-linecap="round" stroke-linejoin="round" /><path d="M406.6,361.6L407.3,361.2L407.9,360.6L408.3,359.8L408.7,358.9L408.8,357.8L408.8,356.7L408.7,355.5L408.4,354.2L408,353L407.4,351.9L406.7,350.8L405.9,349.9L405.1,349.1L404.2,348.4L403.3,348L402.5,347.8L401.6,347.8L400.8,348L400.1,348.4L399.6,349L399.1,349.8L398.8,350.7L398.6,351.8L398.6,353L398.8,354.2L399.1,355.4L399.5,356.6L400.1,357.8L400.7,358.8L401.5,359.8L402.3,360.6L403.2,361.2L404.1,361.6L405,361.8L405.8,361.8Z" fill="#fff" stroke="#1e1e1e" stroke-width="1.26" stroke-linecap="round" stroke-linejoin="round" /><path d="M405.3,358.5L405.7,358.2L406.1,357.8L406.3,357.2L406.5,356.6L406.5,355.8L406.4,355L406.2,354.2L405.8,353.5L405.4,352.7L404.9,352.1L404.4,351.6L403.8,351.3L403.2,351.1L402.7,351L402.2,351.1L401.7,351.4L401.4,351.8L401.1,352.4L401,353.1L400.9,353.8L401.1,354.6L401.3,355.4L401.6,356.2L402,356.9L402.5,357.5L403.1,358L403.6,358.4L404.2,358.6L404.8,358.6Z" fill="none" stroke="#1e1e1e" stroke-width="1.21" stroke-linecap="round" stroke-linejoin="round" /><path d="M403.5,350.9L403.1,351L402.7,351.2L402.4,351.5L402.2,351.9L402,352.4L401.9,352.9L401.9,353.5L402,354.1L402.1,354.8L402.4,355.4L402.7,356L403,356.5L403.4,357L403.8,357.4L404.3,357.7L404.7,358L405.2,358.1L405.6,358.1L406,358L406.4,357.7" fill="none" stroke="#1e1e1e" stroke-width="0.99" stroke-linecap="round" stroke-linejoin="round" /><path d="M390,363.1L385.6,372L385.3,372.7L385.3,373.5L385.4,374.4L385.8,375.3L386.3,376.1L387,377L387.8,377.8L388.8,378.5L389.9,379.1L391,379.6L392.1,379.9L393.3,380.1L394.3,380.2L395.4,380.1L396.3,379.8L397,379.4L397.6,378.9L398.1,378.3L402.6,369.3Z" fill="#fff" stroke="#1e1e1e" stroke-width="1.26" stroke-linecap="round" stroke-linejoin="round" /><path d="M390,363.1L389.8,363.8L389.7,364.6L389.9,365.5L390.2,366.3L390.8,367.2L391.5,368L392.3,368.8L393.3,369.5L394.3,370.1L395.4,370.6L396.6,371L397.7,371.2L398.8,371.2L399.8,371.1L400.7,370.9L401.5,370.5L402.1,370L402.6,369.3L402.8,368.6L402.9,367.8L402.7,366.9L402.4,366.1L401.8,365.2L401.1,364.4L400.3,363.6L399.3,362.9L398.3,362.3L397.1,361.8L396,361.4L394.9,361.2L393.8,361.2L392.8,361.3L391.9,361.5L391.1,361.9L390.5,362.4Z" fill="#fff" stroke="#1e1e1e" stroke-width="1.26" stroke-linecap="round" stroke-linejoin="round" /><path d="M392.7,364.4L392.6,364.9L392.6,365.5L392.7,366.1L393.1,366.7L393.5,367.2L394.1,367.8L394.8,368.2L395.6,368.6L396.3,368.9L397.1,369L397.9,369.1L398.5,369L399.1,368.7L399.6,368.4L399.9,368L400,367.5L400,366.9L399.8,366.3L399.5,365.7L399.1,365.2L398.5,364.6L397.8,364.2L397,363.8L396.3,363.5L395.5,363.4L394.7,363.3L394.1,363.4L393.5,363.7L393,364Z" fill="none" stroke="#1e1e1e" stroke-width="1.21" stroke-linecap="round" stroke-linejoin="round" /><path d="M399.1,369L399.3,368.7L399.4,368.3L399.5,367.9L399.4,367.4L399.2,366.9L398.9,366.5L398.5,366L398.1,365.6L397.5,365.2L397,364.9L396.4,364.6L395.7,364.4L395.1,364.3L394.5,364.3L394,364.3L393.5,364.5L393.1,364.7L392.7,365L392.5,365.3L392.4,365.7" fill="none" stroke="#1e1e1e" stroke-width="0.99" stroke-linecap="round" stroke-linejoin="round" /><path d="M421.5,366.1L417.2,375.2L417,376L417,376.8L417.1,377.7L417.5,378.6L418.1,379.5L418.8,380.3L419.7,381.1L420.7,381.8L421.8,382.4L423,382.9L424.2,383.2L425.3,383.4L426.5,383.4L427.5,383.2L428.4,383L429.2,382.5L429.8,382L430.3,381.3L434.5,372.2Z" fill="#fff" stroke="#1e1e1e" stroke-width="1.26" stroke-linecap="round" stroke-linejoin="round" /><path d="M421.5,366.1L421.2,366.9L421.2,367.7L421.4,368.6L421.7,369.5L422.3,370.4L423,371.3L423.9,372L424.9,372.7L426,373.3L427.2,373.8L428.4,374.1L429.6,374.3L430.7,374.3L431.7,374.2L432.7,373.9L433.4,373.5L434.1,372.9L434.5,372.2L434.7,371.4L434.8,370.6L434.6,369.7L434.2,368.8L433.7,367.9L432.9,367.1L432,366.3L431,365.6L429.9,365L428.8,364.5L427.6,364.2L426.4,364L425.3,364L424.2,364.2L423.3,364.4L422.5,364.9L421.9,365.4Z" fill="#fff" stroke="#1e1e1e" stroke-width="1.26" stroke-linecap="round" stroke-linejoin="round" /><path d="M424.4,367.5L424.2,368L424.2,368.5L424.4,369.1L424.8,369.7L425.3,370.3L425.9,370.8L426.5,371.2L427.3,371.6L428.1,371.8L428.9,372L429.6,372L430.3,371.9L430.9,371.6L431.3,371.3L431.6,370.9L431.7,370.4L431.7,369.8L431.5,369.2L431.2,368.6L430.7,368.1L430.1,367.5L429.4,367.1L428.7,366.7L427.9,366.5L427.1,366.4L426.3,366.4L425.7,366.5L425.1,366.7L424.7,367Z" fill="none" stroke="#1e1e1e" stroke-width="1.21" stroke-linecap="round" stroke-linejoin="round" /><path d="M430.8,371.9L431,371.6L431.2,371.2L431.2,370.8L431.1,370.3L430.9,369.8L430.6,369.4L430.2,368.9L429.7,368.5L429.2,368.1L428.6,367.8L428,367.6L427.4,367.4L426.7,367.3L426.2,367.3L425.6,367.4L425.1,367.5L424.7,367.7L424.4,368L424.2,368.4L424,368.8" fill="none" stroke="#1e1e1e" stroke-width="0.99" stroke-linecap="round" stroke-linejoin="round" /><path d="M380.9,393.8L387.2,401.6L387.8,402.2L388.5,402.7L389.4,402.9L390.4,403L391.4,403L392.5,402.7L393.6,402.3L394.7,401.7L395.7,401L396.6,400.2L397.3,399.3L398,398.3L398.5,397.3L398.8,396.3L398.9,395.4L398.8,394.4L398.5,393.6L398.1,392.9L391.9,385.1Z" fill="#fff" stroke="#1e1e1e" stroke-width="1.26" stroke-linecap="round" stroke-linejoin="round" /><path d="M380.9,393.8L381.5,394.4L382.3,394.9L383.2,395.1L384.1,395.2L385.2,395.1L386.3,394.9L387.3,394.5L388.4,393.9L389.4,393.2L390.3,392.4L391.1,391.5L391.7,390.5L392.2,389.5L392.5,388.5L392.6,387.5L392.6,386.6L392.3,385.8L391.9,385.1L391.3,384.5L390.5,384.1L389.6,383.8L388.7,383.7L387.6,383.8L386.5,384L385.4,384.4L384.4,385L383.4,385.7L382.5,386.5L381.7,387.4L381.1,388.4L380.6,389.4L380.3,390.4L380.2,391.4L380.2,392.3L380.5,393.1Z" fill="#fff" stroke="#1e1e1e" stroke-width="1.26" stroke-linecap="round" stroke-linejoin="round" /><path d="M383.3,392L383.7,392.3L384.2,392.5L384.8,392.6L385.5,392.6L386.2,392.4L386.9,392.1L387.6,391.7L388.3,391.1L388.8,390.5L389.3,389.9L389.6,389.2L389.8,388.6L389.9,388L389.8,387.4L389.5,387L389.1,386.6L388.6,386.4L388,386.3L387.3,386.3L386.6,386.5L385.9,386.8L385.2,387.3L384.5,387.8L383.9,388.4L383.5,389L383.1,389.7L383,390.3L382.9,391L383,391.5Z" fill="none" stroke="#1e1e1e" stroke-width="1.21" stroke-linecap="round" stroke-linejoin="round" /><path d="M390.1,388.1L389.9,387.8L389.6,387.5L389.2,387.3L388.8,387.2L388.3,387.2L387.7,387.2L387.2,387.4L386.6,387.6L386,387.9L385.5,388.3L385,388.8L384.5,389.2L384.2,389.8L383.9,390.3L383.7,390.8L383.6,391.3L383.7,391.8L383.8,392.2L384,392.5L384.3,392.8" fill="none" stroke="#1e1e1e" stroke-width="0.99" stroke-linecap="round" stroke-linejoin="round" /><path d="M407.3,404.4L416.8,399.9L417.4,399.5L418,398.9L418.4,398.1L418.6,397.2L418.7,396.2L418.7,395L418.5,393.9L418.2,392.7L417.7,391.5L417.1,390.4L416.4,389.4L415.6,388.5L414.8,387.8L413.9,387.2L413.1,386.8L412.2,386.6L411.4,386.7L410.7,386.9L401.2,391.4Z" fill="#fff" stroke="#1e1e1e" stroke-width="1.26" stroke-linecap="round" stroke-linejoin="round" /><path d="M407.3,404.4L407.9,404L408.5,403.4L408.9,402.6L409.1,401.7L409.2,400.6L409.2,399.5L409,398.3L408.7,397.2L408.2,396L407.6,394.9L406.9,393.9L406.1,393L405.3,392.3L404.4,391.7L403.6,391.3L402.7,391.1L401.9,391.1L401.2,391.4L400.5,391.8L400,392.4L399.6,393.2L399.3,394.1L399.2,395.1L399.2,396.2L399.4,397.4L399.8,398.6L400.2,399.8L400.8,400.9L401.5,401.9L402.3,402.8L403.1,403.5L404,404.1L404.9,404.5L405.7,404.6L406.5,404.6Z" fill="#fff" stroke="#1e1e1e" stroke-width="1.26" stroke-linecap="round" stroke-linejoin="round" /><path d="M405.9,401.5L406.4,401.2L406.7,400.8L406.9,400.2L407,399.5L407,398.8L406.9,398L406.6,397.2L406.3,396.4L405.8,395.8L405.3,395.1L404.8,394.7L404.2,394.3L403.6,394.1L403,394.1L402.5,394.3L402.1,394.6L401.7,395L401.5,395.6L401.4,396.3L401.4,397L401.5,397.8L401.8,398.6L402.1,399.3L402.6,400L403.1,400.6L403.7,401.1L404.3,401.4L404.9,401.6L405.4,401.6Z" fill="none" stroke="#1e1e1e" stroke-width="1.21" stroke-linecap="round" stroke-linejoin="round" /><path d="M403.8,393.9L403.4,394.1L403.1,394.3L402.8,394.6L402.6,395L402.4,395.5L402.3,396.1L402.4,396.7L402.5,397.3L402.6,397.9L402.9,398.5L403.2,399.1L403.6,399.6L404,400.1L404.4,400.5L404.9,400.8L405.4,401L405.8,401.1L406.3,401.1L406.7,400.9L407,400.7" fill="none" stroke="#1e1e1e" stroke-width="0.99" stroke-linecap="round" stroke-linejoin="round" /><path d="M502.4,372.2L494.6,369.9L492.5,368.2L490.2,366.9L487.6,366.1L484.9,365.6L482,365.6L478.9,366L475.8,366.8L472.6,368.1L469.3,369.7L466.1,371.7L462.8,374.1L459.7,376.8L456.6,379.9L453.7,383.2L450.9,386.8L448.3,390.5L445.9,394.5L443.7,398.5L441.8,402.7L440.2,406.9L438.9,411.1L437.9,415.3L437.2,419.3L436.8,423.3L436.8,427.1L437,430.7L437.7,434L438.6,437.1L439.8,439.8L441.4,442.2L443.2,444.3L451,446.6Z" fill="#fff" stroke="#1e1e1e" stroke-width="1.26" stroke-linecap="round" stroke-linejoin="round" /><path d="M439,428.2L439,424.4L439.3,420.5L440,416.4L440.9,412.2L442.2,408L443.8,403.8L445.7,399.6L447.8,395.5L450.2,391.5L452.8,387.7L455.6,384.1L458.5,380.8" fill="none" stroke="#1e1e1e" stroke-width="1.1" stroke-linecap="round" stroke-linejoin="round" /><path d="M441.3,419.4L442.1,415.2L443.2,411.1L444.6,406.8L446.3,402.6L448.3,398.5L450.5,394.4L453,390.5L455.6,386.8L458.5,383.3L461.5,380.1L464.6,377.1" fill="none" stroke="#1e1e1e" stroke-width="1.1" stroke-linecap="round" stroke-linejoin="round" /><path d="M461.8,376.3L464.9,373.8L468,371.5L471.2,369.7L474.3,368.1L477.4,367L480.4,366.3L483.4,365.9L486.2,365.9" fill="none" stroke="#1e1e1e" stroke-width="1.1" stroke-linecap="round" stroke-linejoin="round" /><path d="M451.5,447.8L449.4,446.2L447.5,444.1L446,441.7L444.7,438.9L443.8,435.9L443.2,432.5L442.9,429L442.9,425.2L443.3,421.2L444,417.1L445,413L446.3,408.8L447.9,404.6L449.8,400.4L451.9,396.3L454.3,392.4L456.9,388.6L459.7,385L462.7,381.7L465.7,378.7L468.9,376L472.1,373.6L475.4,371.5L478.7,369.9L481.9,368.6L485,367.8L488.1,367.4L491,367.4L493.7,367.9L496.3,368.7L498.6,370L500.7,371.7" fill="none" stroke="#1e1e1e" stroke-width="1.1" stroke-linecap="round" stroke-linejoin="round" /><path d="M499.45,370A45.5,26.25 -60 1 1 453.95,448.8A45.5,26.25 -60 1 1 499.45,370Z" fill="#fff" stroke="#1e1e1e" stroke-width="1.26" stroke-linecap="round" stroke-linejoin="round" /><path d="M485.2,400.31A12.8,7.39 -60 1 1 472.4,422.49A12.8,7.39 -60 1 1 485.2,400.31Z" fill="none" stroke="#1e1e1e" stroke-width="1.32" stroke-linecap="round" stroke-linejoin="round" /><path d="M484.25,402.68A10.3,5.94 -60 1 1 473.95,420.52A10.3,5.94 -60 1 1 484.25,402.68Z" fill="none" stroke="#1e1e1e" stroke-width="1.32" stroke-linecap="round" stroke-linejoin="round" /><path d="M542.7,434L517.1,419.2L516.6,418.9L516,418.8L515.4,418.7L514.8,418.7L514.2,418.9L513.5,419.1L512.9,419.4L512.2,419.7L511.5,420.2L510.9,420.7L510.2,421.3L509.6,421.9L509,422.6L508.4,423.4L507.9,424.2L507.4,425L507,425.9L506.6,426.7L506.3,427.6L506.1,428.5L505.9,429.3L505.8,430.1L505.7,430.9L505.7,431.7L505.8,432.4L506,433.1L506.2,433.7L506.5,434.3L506.8,434.7L507.2,435.1L507.7,435.4L533.3,450.2Z" fill="#fff" stroke="#1e1e1e" stroke-width="1.26" stroke-linecap="round" stroke-linejoin="round" /><path d="M542.7,433.96A9.4,5.42 -60 1 1 533.3,450.24A9.4,5.42 -60 1 1 542.7,433.96Z" fill="#fff" stroke="#1e1e1e" stroke-width="1.26" stroke-linecap="round" stroke-linejoin="round" /><path d="M541.4,436.21A6.8,3.92 -60 1 1 534.6,447.99A6.8,3.92 -60 1 1 541.4,436.21Z" fill="none" stroke="#1e1e1e" stroke-width="1.26" stroke-linecap="round" stroke-linejoin="round" /><path d="M538.1,435L538.5,435L538.9,435.1L539.3,435.2L539.6,435.4L539.9,435.7L540.2,436L540.4,436.4L540.5,436.8L540.7,437.3L540.7,437.8L540.8,438.3L540.7,438.9L540.7,439.5L540.5,440.1L540.4,440.7L540.1,441.4L539.9,442L539.6,442.6L539.2,443.2L538.8,443.8L538.4,444.3L538,444.8L537.6,445.3L537.1,445.7L536.6,446.1L536.1,446.4L535.6,446.6L535.2,446.8L534.7,446.9L534.2,447L533.8,447L533.4,447L533,446.8L532.7,446.6L532.4,446.4L532.1,446.1L531.9,445.7" fill="none" stroke="#1e1e1e" stroke-width="1.14" stroke-linecap="round" stroke-linejoin="round" /><path d="M553.8,429.1H585.8V478.9H553.8Z" fill="none" stroke="#1e1e1e" stroke-width="1.43" stroke-linecap="round" stroke-linejoin="round" /><path d="M575.24,451.29A12.6,7.27 -60 1 1 562.64,473.11A12.6,7.27 -60 1 1 575.24,451.29Z" fill="#fff" stroke="#1e1e1e" stroke-width="1.21" stroke-linecap="round" stroke-linejoin="round" /><path d="M576.8,452.19A12.6,7.27 -60 1 1 564.2,474.01A12.6,7.27 -60 1 1 576.8,452.19Z" fill="#fff" stroke="#1e1e1e" stroke-width="1.32" stroke-linecap="round" stroke-linejoin="round" /><path d="M574.8,455.65A8.6,4.96 -60 1 1 566.2,470.55A8.6,4.96 -60 1 1 574.8,455.65Z" fill="none" stroke="#1e1e1e" stroke-width="1.32" stroke-linecap="round" stroke-linejoin="round" /><path d="M570.5,454.7L571.1,454.6L571.6,454.5L572.1,454.6L572.6,454.7L573.1,454.9L573.5,455.2L573.9,455.5L574.2,455.9L574.4,456.4L574.6,456.9L574.8,457.5L574.9,458.2L574.9,458.9L574.8,459.6L574.7,460.3L574.6,461.1L574.4,461.9L574.1,462.7L573.8,463.4L573.4,464.2L573,464.9L572.5,465.7L572,466.3L571.4,467L570.9,467.6L570.3,468.1L569.7,468.6L569.1,469L568.5,469.3L567.9,469.5L567.3,469.7L566.7,469.8L566.2,469.9L565.7,469.8L565.2,469.7L564.7,469.5" fill="none" stroke="#1e1e1e" stroke-width="0.99" stroke-linecap="round" stroke-linejoin="round" /><path d="M594.6,542L592,541L589.7,539.6L587.6,537.7L585.7,535.4L584.2,532.8L583,529.8L582.2,526.5L581.6,523L581.5,519.2L581.6,515.1L582.2,511L583,506.7L584.2,502.3L585.7,497.9L587.5,493.6L589.6,489.3L592,485.1L594.6,481.1L597.4,477.2L600.4,473.7L603.5,470.3L606.8,467.4L610.1,464.7L613.5,462.4L616.9,460.5L620.3,459.1L623.6,458L626.8,457.4L629.9,457.3L632.8,457.6L635.5,458.3L638,459.5L640.3,461.1L642.3,463.2" fill="none" stroke="#1e1e1e" stroke-width="1.26" stroke-linecap="round" stroke-linejoin="round" /><path d="M600.4,543.7L597.5,543.2L594.9,542.2L592.5,540.9L590.3,539.1L588.4,536.9L586.9,534.3L585.6,531.4L584.7,528.2L584.2,524.6L583.9,520.8L584.1,516.9L584.5,512.7L585.4,508.4L586.5,504.1L588,499.7L589.8,495.3L591.8,491L594.2,486.8L596.8,482.8L599.6,479L602.5,475.4L605.7,472L608.9,469L612.2,466.4L615.6,464.1L619,462.2L622.4,460.7L625.7,459.6L628.9,459L632,458.9L634.9,459.2L637.6,459.9L640.2,461.1L642.4,462.7L644.4,464.7L646.1,467.1" fill="none" stroke="#1e1e1e" stroke-width="1.26" stroke-linecap="round" stroke-linejoin="round" /><path d="M629.1,481.9L629.5,481.5L630.2,480.3L631.2,478.7L632.2,476.7L633.1,474.8L633.9,473.1L634.5,471.5L635,469.9L635.5,468.3L635.9,466.7L636.2,465.3L636.4,464.2L636.5,463.4L636.4,462.9L636.3,462.5L636,462.2L635.7,462.1L635.4,462L635.1,461.9L634.6,461.8L634.1,461.9L633.6,462.1L633.2,462.5L632.8,463.2L632.6,464.2L632.4,465.5L632.3,467.1L632.2,468.7L632.1,470.4L631.8,472L631.4,473.8L630.8,475.9L630.1,478.1L629.5,479.9L629.1,481.3Z" fill="#fff" stroke="#1e1e1e" stroke-width="1.32" stroke-linecap="round" stroke-linejoin="round" /><path d="M630.6,479.3L634.9,465.8" fill="none" stroke="#1e1e1e" stroke-width="0.99" stroke-linecap="round" stroke-linejoin="round" /><path d="M631.8,485.3L632.3,485L633.4,483.8L634.9,482L636.6,479.9L638.3,477.8L639.6,475.9L640.8,474.1L642,472.1L643.1,470.1L644.1,468.2L644.9,466.5L645.5,465.1L645.9,464.1L646,463.4L645.9,462.9L645.7,462.5L645.4,462.2L645.2,462L644.9,461.6L644.6,461.3L644.1,461L643.7,461L643.2,461.2L642.6,461.9L642,463.2L641.3,465L640.6,467L639.9,469.3L639,471.5L638.2,473.6L637.1,475.8L635.7,478.3L634.2,480.8L632.9,483L632,484.6Z" fill="#fff" stroke="#1e1e1e" stroke-width="1.32" stroke-linecap="round" stroke-linejoin="round" /><path d="M633.7,483.1L643.8,466" fill="none" stroke="#1e1e1e" stroke-width="0.99" stroke-linecap="round" stroke-linejoin="round" /><path d="M633,490.3L633.5,490.2L634.7,489.3L636.4,488.1L638.3,486.5L640.2,484.9L641.8,483.4L643.2,481.9L644.7,480.2L646.1,478.5L647.4,476.8L648.5,475.3L649.4,474.1L649.9,473.1L650.2,472.4L650.2,471.8L650.2,471.3L650.1,470.9L649.9,470.5L649.8,470L649.6,469.4L649.3,469L649,468.7L648.5,468.8L647.9,469.3L647,470.4L646.1,472.1L644.9,474L643.7,476.2L642.5,478.3L641.2,480.2L639.8,482.1L638,484.3L636.1,486.4L634.5,488.2L633.4,489.6Z" fill="#fff" stroke="#1e1e1e" stroke-width="1.32" stroke-linecap="round" stroke-linejoin="round" /><path d="M635.1,488.7L647.8,474.4" fill="none" stroke="#1e1e1e" stroke-width="0.99" stroke-linecap="round" stroke-linejoin="round" /><path d="M632.6,496.4L633.1,496.4L634.3,496.1L636,495.4L637.9,494.5L639.8,493.6L641.5,492.6L643,491.6L644.6,490.4L646.2,489.2L647.7,487.9L649,486.7L650,485.7L650.7,484.9L651.1,484.2L651.3,483.6L651.4,483L651.4,482.5L651.4,482L651.4,481.4L651.4,480.7L651.4,480.1L651.2,479.6L650.8,479.5L650.1,479.8L649.1,480.7L647.9,482L646.5,483.7L645,485.5L643.4,487.3L641.9,488.9L640.2,490.3L638.2,491.9L636.2,493.4L634.4,494.8L633.1,495.8Z" fill="#fff" stroke="#1e1e1e" stroke-width="1.32" stroke-linecap="round" stroke-linejoin="round" /><path d="M634.7,495.6L648.7,485.3" fill="none" stroke="#1e1e1e" stroke-width="0.99" stroke-linecap="round" stroke-linejoin="round" /><path d="M630.7,502.9L631.1,503.2L632.1,503.3L633.6,503.3L635.4,503.2L637.2,503L638.8,502.7L640.3,502.3L641.9,501.7L643.5,501L645,500.3L646.3,499.6L647.4,498.9L648.2,498.3L648.7,497.7L649.1,497.1L649.3,496.5L649.4,496L649.5,495.4L649.7,494.8L649.9,494L650,493.3L650,492.7L649.7,492.3L649.1,492.4L648.1,492.9L646.7,493.9L645.2,495.1L643.4,496.4L641.7,497.7L640.1,498.8L638.4,499.6L636.4,500.5L634.4,501.3L632.6,501.9L631.3,502.5Z" fill="#fff" stroke="#1e1e1e" stroke-width="1.32" stroke-linecap="round" stroke-linejoin="round" /><path d="M632.6,502.9L646.5,497.9" fill="none" stroke="#1e1e1e" stroke-width="0.99" stroke-linecap="round" stroke-linejoin="round" /><path d="M627.5,509.3L627.7,509.7L628.4,510.4L629.7,511L631.1,511.7L632.6,512.3L633.9,512.7L635.2,512.9L636.6,512.9L638.1,512.9L639.5,512.8L640.8,512.6L641.8,512.3L642.6,512L643.2,511.6L643.6,511.1L643.9,510.5L644.2,509.9L644.5,509.4L644.8,508.8L645.1,508L645.4,507.2L645.5,506.5L645.4,506L644.9,505.8L644,506L642.6,506.5L641,507.1L639.3,507.8L637.6,508.5L636,508.9L634.4,509.1L632.6,509.1L630.8,509.1L629.2,509.1L628,509.1Z" fill="#fff" stroke="#1e1e1e" stroke-width="1.32" stroke-linecap="round" stroke-linejoin="round" /><path d="M629,510.2L641.3,510.7" fill="none" stroke="#1e1e1e" stroke-width="0.99" stroke-linecap="round" stroke-linejoin="round" /><path d="M623.1,514.9L623.2,515.5L623.7,516.5L624.4,517.8L625.4,519.2L626.4,520.5L627.4,521.5L628.4,522.3L629.5,523L630.7,523.6L631.8,524.1L632.9,524.5L633.8,524.7L634.5,524.6L635.1,524.4L635.5,524.1L635.9,523.6L636.3,523.1L636.7,522.6L637.1,522L637.6,521.3L638,520.6L638.3,519.9L638.3,519.3L638,518.8L637.2,518.6L636,518.5L634.5,518.5L633,518.6L631.5,518.5L630.1,518.3L628.8,517.8L627.3,517L625.9,516.2L624.6,515.4L623.6,514.9Z" fill="#fff" stroke="#1e1e1e" stroke-width="1.32" stroke-linecap="round" stroke-linejoin="round" /><path d="M624.1,516.6L633.8,522.7" fill="none" stroke="#1e1e1e" stroke-width="0.99" stroke-linecap="round" stroke-linejoin="round" /><path d="M618.2,519.2L618.1,519.8L618.2,521.2L618.5,523L618.9,525L619.3,526.9L619.8,528.4L620.4,529.7L621.1,531L621.9,532.2L622.7,533.3L623.4,534.1L624.1,534.7L624.6,535L625.2,535L625.6,534.8L626.1,534.5L626.5,534.1L626.9,533.7L627.4,533.3L628,532.7L628.5,532.1L628.9,531.5L629.1,530.8L629,530.1L628.4,529.5L627.5,528.9L626.3,528.3L625.1,527.6L623.9,526.9L622.8,526L621.9,524.9L621,523.3L620,521.8L619.2,520.4L618.6,519.4Z" fill="#fff" stroke="#1e1e1e" stroke-width="1.32" stroke-linecap="round" stroke-linejoin="round" /><path d="M618.5,521.4L624.6,532.5" fill="none" stroke="#1e1e1e" stroke-width="0.99" stroke-linecap="round" stroke-linejoin="round" /><path d="M613.1,521.7L612.9,522.4L612.6,523.9L612.3,526L612.1,528.4L612,530.7L611.9,532.6L612.1,534.3L612.3,536L612.6,537.7L612.9,539.2L613.3,540.5L613.6,541.5L614,542L614.4,542.3L614.9,542.3L615.3,542.1L615.8,541.9L616.2,541.6L616.7,541.4L617.3,541L617.9,540.6L618.4,540.1L618.7,539.4L618.8,538.6L618.5,537.7L617.9,536.6L617.2,535.4L616.3,534.1L615.6,532.7L615,531.3L614.6,529.6L614.2,527.5L613.9,525.4L613.6,523.5L613.4,522.2Z" fill="#fff" stroke="#1e1e1e" stroke-width="1.32" stroke-linecap="round" stroke-linejoin="round" /><path d="M612.8,524.3L614.7,539.3" fill="none" stroke="#1e1e1e" stroke-width="0.99" stroke-linecap="round" stroke-linejoin="round" /><path d="M608.4,522.2L608,522.8L607.4,524.4L606.6,526.6L605.8,529.1L605.1,531.6L604.6,533.8L604.2,535.7L603.9,537.7L603.7,539.7L603.6,541.5L603.5,543.1L603.5,544.3L603.7,545.1L603.9,545.6L604.3,545.8L604.7,545.8L605.1,545.7L605.5,545.6L606,545.6L606.5,545.4L607.1,545.2L607.7,544.9L608.1,544.3L608.4,543.4L608.4,542.3L608.2,540.8L608,539.2L607.7,537.4L607.4,535.5L607.3,533.7L607.4,531.6L607.7,529.2L608,526.6L608.3,524.4L608.5,522.8Z" fill="#fff" stroke="#1e1e1e" stroke-width="1.32" stroke-linecap="round" stroke-linejoin="round" /><path d="M607.5,525L604.9,542.4" fill="none" stroke="#1e1e1e" stroke-width="0.99" stroke-linecap="round" stroke-linejoin="round" /><path d="M604.5,520.7L604.1,521.1L603.4,522.3L602.4,523.9L601.4,525.9L600.5,527.8L599.7,529.5L599.1,531.1L598.6,532.7L598.1,534.3L597.7,535.9L597.4,537.3L597.2,538.4L597.1,539.2L597.2,539.7L597.3,540.1L597.6,540.4L597.9,540.5L598.2,540.6L598.5,540.7L599,540.8L599.5,540.7L600,540.5L600.4,540.1L600.8,539.4L601,538.4L601.2,537.1L601.3,535.5L601.4,533.9L601.5,532.2L601.8,530.6L602.2,528.8L602.8,526.7L603.5,524.5L604.1,522.7L604.5,521.3Z" fill="#fff" stroke="#1e1e1e" stroke-width="1.32" stroke-linecap="round" stroke-linejoin="round" /><path d="M603,523.3L598.7,536.8" fill="none" stroke="#1e1e1e" stroke-width="0.99" stroke-linecap="round" stroke-linejoin="round" /><path d="M601.8,517.3L601.4,517.5L600.5,518.5L599.3,519.9L598,521.6L596.7,523.3L595.6,524.9L594.7,526.3L593.9,527.9L593,529.5L592.3,531L591.7,532.4L591.2,533.5L591,534.4L590.9,535L590.9,535.5L591,535.9L591.2,536.2L591.4,536.5L591.7,536.7L592,537L592.5,537.2L592.9,537.2L593.4,536.9L593.9,536.3L594.3,535.3L594.8,533.9L595.3,532.2L595.8,530.5L596.4,528.7L597,527L597.8,525.2L598.9,523.1L600,521.1L601,519.2L601.6,517.9Z" fill="#fff" stroke="#1e1e1e" stroke-width="1.32" stroke-linecap="round" stroke-linejoin="round" /><path d="M599.9,519.5L592.9,532.5" fill="none" stroke="#1e1e1e" stroke-width="0.99" stroke-linecap="round" stroke-linejoin="round" /><path d="M600.6,512.3L600.2,512.4L599.2,513L597.9,514.1L596.4,515.4L594.9,516.7L593.6,517.9L592.5,519.1L591.4,520.5L590.3,521.9L589.3,523.2L588.5,524.5L587.8,525.5L587.4,526.3L587.1,527L587,527.6L587,528.1L587.1,528.5L587.2,528.9L587.3,529.3L587.5,529.7L587.8,530.1L588.2,530.3L588.6,530.2L589.2,529.8L589.8,528.9L590.5,527.5L591.4,525.9L592.3,524.2L593.2,522.4L594.2,520.9L595.3,519.2L596.7,517.4L598.1,515.7L599.4,514.1L600.3,512.9Z" fill="#fff" stroke="#1e1e1e" stroke-width="1.32" stroke-linecap="round" stroke-linejoin="round" /><path d="M598.5,513.9L589.4,525.1" fill="none" stroke="#1e1e1e" stroke-width="0.99" stroke-linecap="round" stroke-linejoin="round" /><path d="M601,506.2L600.6,506.2L599.7,506.4L598.3,507L596.8,507.7L595.2,508.6L593.9,509.3L592.7,510.2L591.5,511.2L590.2,512.2L589.1,513.3L588,514.3L587.2,515.1L586.7,515.9L586.3,516.5L586,517.1L585.9,517.6L585.9,518.1L585.8,518.6L585.8,519.1L585.9,519.7L586,520.2L586.2,520.6L586.6,520.7L587.2,520.5L587.9,519.7L588.9,518.6L590,517.2L591.1,515.6L592.4,514.1L593.5,512.8L594.9,511.5L596.5,510.2L598.1,508.9L599.5,507.7L600.5,506.8Z" fill="#fff" stroke="#1e1e1e" stroke-width="1.32" stroke-linecap="round" stroke-linejoin="round" /><path d="M598.9,507L588.6,515.4" fill="none" stroke="#1e1e1e" stroke-width="0.99" stroke-linecap="round" stroke-linejoin="round" /><path d="M602.9,499.7L602.6,499.4L601.8,499.3L600.6,499.4L599.1,499.5L597.7,499.7L596.4,500L595.2,500.4L594,500.9L592.7,501.5L591.5,502.2L590.4,502.8L589.6,503.4L588.9,504L588.4,504.5L588.1,505L587.8,505.6L587.7,506.1L587.5,506.6L587.4,507.1L587.3,507.8L587.2,508.5L587.3,509L587.6,509.3L588.1,509.3L588.9,508.8L589.9,507.9L591.2,506.9L592.5,505.7L593.9,504.6L595.2,503.7L596.6,502.8L598.2,502L599.9,501.3L601.3,500.6L602.4,500.1Z" fill="#fff" stroke="#1e1e1e" stroke-width="1.32" stroke-linecap="round" stroke-linejoin="round" /><path d="M601,499.7L590.5,504.3" fill="none" stroke="#1e1e1e" stroke-width="0.99" stroke-linecap="round" stroke-linejoin="round" /><path d="M606.1,493.3L606,492.9L605.4,492.4L604.4,491.9L603.2,491.4L602,491L600.9,490.7L599.9,490.7L598.7,490.7L597.6,490.8L596.4,491L595.4,491.2L594.5,491.5L593.9,491.8L593.3,492.2L592.9,492.6L592.6,493.1L592.3,493.6L592.1,494.1L591.8,494.6L591.5,495.3L591.3,496L591.3,496.6L591.4,497.1L591.8,497.3L592.6,497.1L593.6,496.7L594.9,496L596.3,495.3L597.7,494.7L599,494.3L600.3,494L601.8,493.8L603.3,493.7L604.7,493.7L605.7,493.5Z" fill="#fff" stroke="#1e1e1e" stroke-width="1.32" stroke-linecap="round" stroke-linejoin="round" /><path d="M604.6,492.4L595.1,492.9" fill="none" stroke="#1e1e1e" stroke-width="0.99" stroke-linecap="round" stroke-linejoin="round" /><path d="M610.5,487.7L610.4,487.2L610.1,486.4L609.4,485.4L608.6,484.3L607.8,483.3L607,482.5L606.2,482L605.3,481.5L604.3,481.1L603.3,480.8L602.4,480.6L601.7,480.5L601.1,480.6L600.6,480.8L600.1,481.1L599.7,481.4L599.4,481.8L599,482.3L598.7,482.8L598.3,483.4L597.9,484.1L597.7,484.8L597.7,485.3L598,485.7L598.6,485.8L599.6,485.8L600.8,485.7L602.1,485.6L603.3,485.5L604.5,485.5L605.6,485.9L606.9,486.4L608.1,486.9L609.2,487.4L610,487.7Z" fill="#fff" stroke="#1e1e1e" stroke-width="1.32" stroke-linecap="round" stroke-linejoin="round" /><path d="M609.5,486L601.7,482.4" fill="none" stroke="#1e1e1e" stroke-width="0.99" stroke-linecap="round" stroke-linejoin="round" /><path d="M615.4,483.4L615.5,482.9L615.4,481.8L615.2,480.4L614.8,478.8L614.4,477.4L614,476.2L613.5,475.2L612.9,474.2L612.2,473.4L611.6,472.6L610.9,472L610.3,471.6L609.8,471.4L609.4,471.3L608.9,471.5L608.5,471.7L608.1,472L607.8,472.3L607.3,472.7L606.8,473.3L606.4,473.9L606,474.5L605.9,475.1L606,475.6L606.5,476.1L607.2,476.5L608.2,476.9L609.3,477.3L610.3,477.8L611.2,478.4L612,479.2L612.9,480.3L613.7,481.5L614.4,482.6L615,483.3Z" fill="#fff" stroke="#1e1e1e" stroke-width="1.32" stroke-linecap="round" stroke-linejoin="round" /><path d="M615.1,481.2L609.9,473.6" fill="none" stroke="#1e1e1e" stroke-width="0.99" stroke-linecap="round" stroke-linejoin="round" /><path d="M620.5,480.9L620.7,480.4L620.9,479.1L621.1,477.5L621.2,475.6L621.3,473.8L621.3,472.3L621.2,471L620.9,469.7L620.6,468.4L620.3,467.2L619.9,466.3L619.6,465.6L619.3,465.1L618.9,464.9L618.5,464.8L618.1,464.9L617.7,465L617.3,465.2L616.9,465.5L616.4,465.9L615.8,466.3L615.4,466.8L615.1,467.4L615,468.1L615.3,468.8L615.8,469.6L616.5,470.5L617.2,471.4L617.9,472.4L618.5,473.5L618.9,474.8L619.3,476.4L619.6,478.1L619.9,479.5L620.2,480.6Z" fill="#fff" stroke="#1e1e1e" stroke-width="1.32" stroke-linecap="round" stroke-linejoin="round" /><path d="M620.8,478.3L618.7,467.6" fill="none" stroke="#1e1e1e" stroke-width="0.99" stroke-linecap="round" stroke-linejoin="round" /><path d="M625.2,480.4L625.5,479.9L626,478.6L626.6,476.9L627.2,474.9L627.8,472.9L628.2,471.2L628.4,469.7L628.6,468.2L628.7,466.6L628.7,465.2L628.7,464L628.6,463L628.4,462.4L628.2,461.9L627.9,461.7L627.6,461.6L627.3,461.6L626.9,461.7L626.5,461.8L625.9,461.9L625.4,462.2L624.9,462.6L624.5,463.1L624.3,463.8L624.3,464.7L624.5,465.8L624.8,467.1L625.1,468.5L625.4,469.9L625.6,471.3L625.6,472.9L625.4,474.9L625.3,476.9L625.1,478.6L625.1,479.9Z" fill="#fff" stroke="#1e1e1e" stroke-width="1.32" stroke-linecap="round" stroke-linejoin="round" /><path d="M626.1,477.6L627.3,464.9" fill="none" stroke="#1e1e1e" stroke-width="0.99" stroke-linecap="round" stroke-linejoin="round" /><path d="M624.2,489.16A14.6,8.42 -60 1 1 609.6,514.44A14.6,8.42 -60 1 1 624.2,489.16Z" fill="#fff" stroke="#1e1e1e" stroke-width="1.43" stroke-linecap="round" stroke-linejoin="round" /><path d="M621.1,495.42A7.6,4.39 -60 1 1 613.5,508.58A7.6,4.39 -60 1 1 621.1,495.42Z" fill="#fff" stroke="#1e1e1e" stroke-width="2.53" stroke-linecap="round" stroke-linejoin="round" /><path d="M614.1,511L613.4,511.1L612.6,511.2L612,511.1L611.3,510.9L610.7,510.7L610.2,510.3L609.7,509.8L609.3,509.3L609,508.6L608.7,507.9L608.6,507.1L608.5,506.3L608.5,505.3L608.5,504.4L608.7,503.4L608.9,502.4L609.3,501.4L609.6,500.3L610.1,499.3L610.6,498.3L611.2,497.4L611.8,496.5L612.5,495.6L613.2,494.8L614,494.1L614.7,493.4L615.5,492.8L616.3,492.4L617.1,492L617.9,491.7L618.7,491.5L619.4,491.4L620.1,491.5L620.7,491.6L621.3,491.9L621.9,492.2L622.4,492.6L622.8,493.2L623.1,493.8L623.4,494.5L623.6,495.3L623.7,496.1" fill="none" stroke="#1e1e1e" stroke-width="0.99" stroke-linecap="round" stroke-linejoin="round" /><path d="M670.69,513.21A16.5,9.52 -60 1 1 654.19,541.79A16.5,9.52 -60 1 1 670.69,513.21Z" fill="#fff" stroke="#1e1e1e" stroke-width="1.21" stroke-linecap="round" stroke-linejoin="round" /><path d="M672.25,514.11A16.5,9.52 -60 1 1 655.75,542.69A16.5,9.52 -60 1 1 672.25,514.11Z" fill="#fff" stroke="#1e1e1e" stroke-width="1.43" stroke-linecap="round" stroke-linejoin="round" /><path d="M668.4,521.5A8.2,4.73 -60 1 1 660.2,535.7A8.2,4.73 -60 1 1 668.4,521.5Z" fill="none" stroke="#1e1e1e" stroke-width="1.32" stroke-linecap="round" stroke-linejoin="round" /><path d="M660.5,536.8L659.9,536.7L659.3,536.6L658.8,536.4L658.3,536.1L657.9,535.7L657.5,535.3L657.2,534.7L656.9,534.1L656.7,533.4L656.6,532.7L656.6,531.9L656.7,531L656.8,530.2L657,529.3L657.2,528.4L657.5,527.5L657.9,526.6L658.4,525.7L658.9,524.8L659.4,524L660,523.2L660.6,522.5L661.3,521.8L662,521.2L662.7,520.6L663.4,520.2L664.1,519.8L664.8,519.5L665.4,519.3L666.1,519.3L666.7,519.2L667.3,519.3L667.9,519.5L668.4,519.8L668.8,520.2L669.2,520.6L669.6,521.1" fill="none" stroke="#1e1e1e" stroke-width="0.99" stroke-linecap="round" stroke-linejoin="round" /><path d="M672.59,518.26A1.8,1.04 -60 1 1 670.79,521.38A1.8,1.04 -60 1 1 672.59,518.26Z" fill="none" stroke="#1e1e1e" stroke-width="1.32" stroke-linecap="round" stroke-linejoin="round" /><path d="M671.85,528.45A1.8,1.04 -60 1 1 670.05,531.56A1.8,1.04 -60 1 1 671.85,528.45Z" fill="none" stroke="#1e1e1e" stroke-width="1.32" stroke-linecap="round" stroke-linejoin="round" /><path d="M664.16,537.03A1.8,1.04 -60 1 1 662.36,540.15A1.8,1.04 -60 1 1 664.16,537.03Z" fill="none" stroke="#1e1e1e" stroke-width="1.32" stroke-linecap="round" stroke-linejoin="round" /><path d="M657.21,535.42A1.8,1.04 -60 1 1 655.41,538.54A1.8,1.04 -60 1 1 657.21,535.42Z" fill="none" stroke="#1e1e1e" stroke-width="1.32" stroke-linecap="round" stroke-linejoin="round" /><path d="M657.95,525.24A1.8,1.04 -60 1 1 656.15,528.35A1.8,1.04 -60 1 1 657.95,525.24Z" fill="none" stroke="#1e1e1e" stroke-width="1.32" stroke-linecap="round" stroke-linejoin="round" /><path d="M665.64,516.65A1.8,1.04 -60 1 1 663.84,519.77A1.8,1.04 -60 1 1 665.64,516.65Z" fill="none" stroke="#1e1e1e" stroke-width="1.32" stroke-linecap="round" stroke-linejoin="round" /><path d="M703.01,540.73A9.2,5.31 -60 1 1 693.81,556.67A9.2,5.31 -60 1 1 703.01,540.73Z" fill="#fff" stroke="#1e1e1e" stroke-width="1.32" stroke-linecap="round" stroke-linejoin="round" /><path d="M704.4,541.53A9.2,5.31 -60 1 1 695.2,557.47A9.2,5.31 -60 1 1 704.4,541.53Z" fill="#fff" stroke="#1e1e1e" stroke-width="1.87" stroke-linecap="round" stroke-linejoin="round" /><path d="M702.85,545.11A5.3,3.06 -60 1 1 697.55,554.29A5.3,3.06 -60 1 1 702.85,545.11Z" fill="none" stroke="#1e1e1e" stroke-width="1.65" stroke-linecap="round" stroke-linejoin="round" /><path d="M699.5,546.1L699.8,546L700,546L700.3,545.9L700.5,545.9L700.7,545.9L700.9,546L701.1,546.1L701.3,546.2L701.4,546.4L701.6,546.6L701.7,546.8L701.8,547L701.8,547.3L701.8,547.6L701.8,547.9L701.8,548.2L701.8,548.5L701.7,548.8L701.6,549.2L701.5,549.5L701.3,549.8L701.2,550.1L701,550.5L700.8,550.8L700.5,551L700.3,551.3L700.1,551.6L699.8,551.8L699.6,552L699.3,552.1L699,552.3L698.8,552.4L698.5,552.4L698.3,552.5L698.1,552.5L697.8,552.5" fill="none" stroke="#1e1e1e" stroke-width="1.1" stroke-linecap="round" stroke-linejoin="round" /><path d="M737.54,558.58A10.3,5.94 -60 1 1 727.24,576.42A10.3,5.94 -60 1 1 737.54,558.58Z" fill="#fff" stroke="#1e1e1e" stroke-width="1.54" stroke-linecap="round" stroke-linejoin="round" /><path d="M739.45,559.68A10.3,5.94 -60 1 1 729.15,577.52A10.3,5.94 -60 1 1 739.45,559.68Z" fill="#fff" stroke="#1e1e1e" stroke-width="2.2" stroke-linecap="round" stroke-linejoin="round" /><path d="M741.4,564.9L739.9,571.9L734.6,576.6L730.7,574.3L732.1,567.3L737.5,562.6Z" fill="#fff" stroke="#1e1e1e" stroke-width="1.87" stroke-linecap="round" stroke-linejoin="round" /><path d="M730.7,574.3L729,573.3" fill="none" stroke="#1e1e1e" stroke-width="1.32" stroke-linecap="round" stroke-linejoin="round" /><path d="M732.1,567.3L730.4,566.3" fill="none" stroke="#1e1e1e" stroke-width="1.32" stroke-linecap="round" stroke-linejoin="round" /><path d="M737.5,562.6L735.7,561.6" fill="none" stroke="#1e1e1e" stroke-width="1.32" stroke-linecap="round" stroke-linejoin="round" /><path d="M738.73,565.82A4.6,2.65 -60 1 1 734.13,573.78A4.6,2.65 -60 1 1 738.73,565.82Z" fill="none" stroke="#1e1e1e" stroke-width="1.98" stroke-linecap="round" stroke-linejoin="round" /><path d="M737.73,567.55A2.6,1.5 -60 1 1 735.13,572.05A2.6,1.5 -60 1 1 737.73,567.55Z" fill="none" stroke="#1e1e1e" stroke-width="1.1" stroke-linecap="round" stroke-linejoin="round" /><path d="M810.5,597.5L800.1,591.5L799.4,591.2L798.6,591L797.8,590.9L796.9,590.9L796,591.1L795.1,591.4L794.1,591.8L793.2,592.3L792.2,592.9L791.3,593.7L790.3,594.5L789.5,595.4L788.6,596.4L787.8,597.5L787.1,598.7L786.4,599.8L785.8,601L785.2,602.3L784.8,603.5L784.4,604.7L784.2,606L784,607.1L783.9,608.3L784,609.4L784.1,610.4L784.3,611.4L784.6,612.2L785,613L785.5,613.7L786.1,614.3L786.7,614.7L797.1,620.7Z" fill="#fff" stroke="#1e1e1e" stroke-width="1.43" stroke-linecap="round" stroke-linejoin="round" /><path d="M810.5,597.5A13.4,7.73 -60 1 1 797.1,620.7A13.4,7.73 -60 1 1 810.5,597.5Z" fill="#fff" stroke="#1e1e1e" stroke-width="1.43" stroke-linecap="round" stroke-linejoin="round" /><path d="M791.4,617.4L790.7,617L790.1,616.5L789.6,615.9L789.1,615.1L788.8,614.3L788.5,613.4L788.3,612.4L788.3,611.4L788.3,610.2L788.4,609.1L788.6,607.9L788.9,606.6L789.3,605.4L789.8,604.2L790.4,602.9L791,601.7L791.8,600.6L792.5,599.5L793.4,598.4L794.2,597.5L795.1,596.6L796.1,595.8L797,595.1L798,594.5L798.9,594.1L799.9,593.7L800.8,593.5L801.7,593.4L802.6,593.4L803.4,593.5L804.1,593.8L804.8,594.2" fill="none" stroke="#1e1e1e" stroke-width="2.64" stroke-linecap="round" stroke-linejoin="round" /><path d="M794,618.9L793.4,618.5L792.8,618L792.2,617.3L791.8,616.5L791.5,615.7L791.2,614.7L791.1,613.7L791,612.6L791.1,611.4L791.3,610.2L791.5,609L791.9,607.7L792.3,606.4L792.9,605.2L793.5,603.9L794.2,602.7L794.9,601.6L795.8,600.5L796.6,599.5L797.5,598.5L798.5,597.7L799.5,596.9L800.4,596.3L801.4,595.8L802.4,595.4L803.3,595.1L804.3,595L805.1,595L806,595.1L806.7,595.4L807.4,595.7" fill="none" stroke="#1e1e1e" stroke-width="1.1" stroke-linecap="round" stroke-linejoin="round" /><path d="M809.4,600.29A10.4,6 -60 1 1 799,618.31A10.4,6 -60 1 1 809.4,600.29Z" fill="none" stroke="#1e1e1e" stroke-width="1.1" stroke-linecap="round" stroke-linejoin="round" /><path d="M813.3,606L809.7,603.9L809.3,603.7L808.8,603.6L808.4,603.5L807.9,603.6L807.4,603.7L806.9,603.8L806.4,604L805.8,604.3L805.3,604.7L804.8,605.1L804.3,605.6L803.8,606.1L803.3,606.6L802.9,607.2L802.5,607.8L802.1,608.5L801.7,609.2L801.5,609.8L801.2,610.5L801,611.2L800.9,611.9L800.8,612.5L800.7,613.2L800.7,613.8L800.8,614.3L800.9,614.9L801.1,615.3L801.3,615.8L801.6,616.1L801.9,616.5L802.3,616.7L805.9,618.8Z" fill="#fff" stroke="#1e1e1e" stroke-width="1.65" stroke-linecap="round" stroke-linejoin="round" /><path d="M813.3,605.99A7.4,4.27 -60 1 1 805.9,618.81A7.4,4.27 -60 1 1 813.3,605.99Z" fill="#fff" stroke="#1e1e1e" stroke-width="1.65" stroke-linecap="round" stroke-linejoin="round" /><path d="M801.9,616.5L805.2,618.2" fill="none" stroke="#1e1e1e" stroke-width="1.76" stroke-linecap="round" stroke-linejoin="round" /><path d="M801,615L804.5,616.6" fill="none" stroke="#1e1e1e" stroke-width="1.76" stroke-linecap="round" stroke-linejoin="round" /><path d="M800.7,613L804.4,614.4" fill="none" stroke="#1e1e1e" stroke-width="1.76" stroke-linecap="round" stroke-linejoin="round" /><path d="M801.2,610.6L805.1,612" fill="none" stroke="#1e1e1e" stroke-width="1.76" stroke-linecap="round" stroke-linejoin="round" /><path d="M802.3,608.2L806.3,609.6" fill="none" stroke="#1e1e1e" stroke-width="1.76" stroke-linecap="round" stroke-linejoin="round" /><path d="M803.8,606L808,607.6" fill="none" stroke="#1e1e1e" stroke-width="1.76" stroke-linecap="round" stroke-linejoin="round" /><path d="M805.7,604.4L809.9,606.2" fill="none" stroke="#1e1e1e" stroke-width="1.76" stroke-linecap="round" stroke-linejoin="round" /><path d="M807.6,603.6L811.7,605.7" fill="none" stroke="#1e1e1e" stroke-width="1.76" stroke-linecap="round" stroke-linejoin="round" /><path d="M809.3,603.7L813.3,606" fill="none" stroke="#1e1e1e" stroke-width="1.76" stroke-linecap="round" stroke-linejoin="round" /><path d="M813.8,606.6L813.3,609.2" fill="none" stroke="#1e1e1e" stroke-width="1.54" stroke-linecap="round" stroke-linejoin="round" /><path d="M814.6,608.6L813.8,610.7" fill="none" stroke="#1e1e1e" stroke-width="1.54" stroke-linecap="round" stroke-linejoin="round" /><path d="M814.5,611.3L813.5,612.6" fill="none" stroke="#1e1e1e" stroke-width="1.54" stroke-linecap="round" stroke-linejoin="round" /><path d="M813.3,614.3L812.7,614.5" fill="none" stroke="#1e1e1e" stroke-width="1.54" stroke-linecap="round" stroke-linejoin="round" /><path d="M811.4,616.8L811.3,616.1" fill="none" stroke="#1e1e1e" stroke-width="1.54" stroke-linecap="round" stroke-linejoin="round" /><path d="M809.2,618.5L809.8,617.1" fill="none" stroke="#1e1e1e" stroke-width="1.54" stroke-linecap="round" stroke-linejoin="round" /><path d="M807,619L808.4,617.2" fill="none" stroke="#1e1e1e" stroke-width="1.54" stroke-linecap="round" stroke-linejoin="round" /><path d="M826.9,615.9L813.4,608.1L813.1,608L812.8,607.9L812.4,607.9L812,607.9L811.6,608L811.2,608.1L810.8,608.3L810.4,608.5L810,608.8L809.5,609.1L809.1,609.5L808.7,609.9L808.4,610.3L808,610.8L807.7,611.3L807.4,611.8L807.1,612.3L806.9,612.9L806.7,613.4L806.5,614L806.4,614.5L806.3,615L806.3,615.5L806.3,616L806.4,616.5L806.5,616.9L806.6,617.3L806.8,617.6L807,617.9L807.2,618.2L807.5,618.4L820.9,626.1Z" fill="#fff" stroke="#1e1e1e" stroke-width="1.38" stroke-linecap="round" stroke-linejoin="round" /><path d="M826.85,615.89A5.9,3.4 -60 1 1 820.95,626.11A5.9,3.4 -60 1 1 826.85,615.89Z" fill="#fff" stroke="#1e1e1e" stroke-width="1.38" stroke-linecap="round" stroke-linejoin="round" /><path d="M782.9,619.6L758.2,637.9L812.2,669.7L837.6,648.7" fill="none" stroke="#1e1e1e" stroke-width="1.43" stroke-linecap="round" stroke-linejoin="round" /><path d="M789.2,658.9L771,669.7" fill="none" stroke="#1e1e1e" stroke-width="1.43" stroke-linecap="round" stroke-linejoin="round" /><path d="M844.7,621.4L844.4,622.1L844.1,623L843.7,624.1L843.2,625.3L842.8,626.6L842.3,627.9L841.8,629.2L841.4,630.4L841,631.5L840.5,632.7L840.1,633.9L839.6,635.1L839.2,636.2L838.8,637.4L838.6,638.4L838.4,639.4L838.4,640.3L838.4,641.2L838.5,642L838.7,642.8L838.9,643.5L839.2,644.2L839.5,644.8L839.9,645.4L840.3,645.9L840.9,646.3L841.5,646.5L842.1,646.8L842.8,647.1L843.4,647.4L844,647.8L844.4,648.4L844.7,649.1L844.9,650L845.1,651L845.2,652L845.3,653.1L845.4,654.1L845.6,655L845.9,655.9L846.2,656.7L846.6,657.4L847.1,658.2L847.5,658.9L848,659.5L848.5,660.1L849.1,660.6L849.6,661.1L850.2,661.5L850.8,661.8L851.5,662.1L852.2,662.4L852.9,662.6L853.6,662.7L854.2,662.8L854.8,662.8L855.4,662.8L855.9,662.7L856.5,662.5L857,662.4L857.5,662.1L857.9,661.9L858.3,661.6L858.6,661.3L858.8,661L859,660.5L859.1,660.1L859.1,659.6L859.2,659.1L859.2,658.7L859.2,658.4L859.2,658.1" fill="none" stroke="#1e1e1e" stroke-width="2.42" stroke-linecap="round" stroke-linejoin="round" /><path d="M844.7,621.4L844.4,622.1L844.1,623L843.7,624.1L843.2,625.3L842.8,626.6L842.3,627.9L841.8,629.2L841.4,630.4L841,631.5L840.5,632.7L840.1,633.9L839.6,635.1L839.2,636.2L838.8,637.4L838.6,638.4L838.4,639.4L838.4,640.3L838.4,641.2L838.5,642L838.7,642.8L838.9,643.5L839.2,644.2L839.5,644.8L839.9,645.4L840.3,645.9L840.9,646.3L841.5,646.5L842.1,646.8L842.8,647.1L843.4,647.4L844,647.8L844.4,648.4L844.7,649.1L844.9,650L845.1,651L845.2,652L845.3,653.1L845.4,654.1L845.6,655L845.9,655.9L846.2,656.7L846.6,657.4L847.1,658.2L847.5,658.9L848,659.5L848.5,660.1L849.1,660.6L849.6,661.1L850.2,661.5L850.8,661.8L851.5,662.1L852.2,662.4L852.9,662.6L853.6,662.7L854.2,662.8L854.8,662.8L855.4,662.8L855.9,662.7L856.5,662.5L857,662.4L857.5,662.1L857.9,661.9L858.3,661.6L858.6,661.3L858.8,661L859,660.5L859.1,660.1L859.1,659.6L859.2,659.1L859.2,658.7L859.2,658.4L859.2,658.1" fill="none" stroke="#fff" stroke-width="0.8" stroke-linecap="round" stroke-linejoin="round"/><path d="M850.6,618.4L850.8,618.7L851.1,619.2L851.4,619.8L851.7,620.4L852.1,621L852.5,621.7L852.9,622.3L853.3,622.9L853.8,623.4L854.3,624L854.8,624.5L855.4,625L855.9,625.5L856.4,626.1L856.8,626.7L857.1,627.4L857.3,628.2L857.4,629.1L857.4,630.1L857.4,631.1L857.3,632.1L857.2,633.1L857,634L856.8,634.9L856.5,635.7L856.1,636.5L855.7,637.3L855.2,638L854.7,638.7L854.2,639.4L853.7,640.2L853.3,640.9L852.9,641.6L852.4,642.4L851.9,643.1L851.4,643.9L850.9,644.6L850.5,645.4L850.2,646.1L850,646.9L849.9,647.7L849.8,648.5L849.8,649.3L849.8,650L849.9,650.8L850.1,651.6L850.3,652.3L850.6,652.9L851,653.5L851.4,654L851.9,654.6L852.5,655L853.1,655.5L853.7,655.9L854.3,656.3L854.8,656.6L855.3,656.9L855.9,657.2L856.5,657.4L857.1,657.6L857.6,657.7L858.1,657.9L858.5,658L858.8,658.1" fill="none" stroke="#1e1e1e" stroke-width="2.42" stroke-linecap="round" stroke-linejoin="round" /><path d="M850.6,618.4L850.8,618.7L851.1,619.2L851.4,619.8L851.7,620.4L852.1,621L852.5,621.7L852.9,622.3L853.3,622.9L853.8,623.4L854.3,624L854.8,624.5L855.4,625L855.9,625.5L856.4,626.1L856.8,626.7L857.1,627.4L857.3,628.2L857.4,629.1L857.4,630.1L857.4,631.1L857.3,632.1L857.2,633.1L857,634L856.8,634.9L856.5,635.7L856.1,636.5L855.7,637.3L855.2,638L854.7,638.7L854.2,639.4L853.7,640.2L853.3,640.9L852.9,641.6L852.4,642.4L851.9,643.1L851.4,643.9L850.9,644.6L850.5,645.4L850.2,646.1L850,646.9L849.9,647.7L849.8,648.5L849.8,649.3L849.8,650L849.9,650.8L850.1,651.6L850.3,652.3L850.6,652.9L851,653.5L851.4,654L851.9,654.6L852.5,655L853.1,655.5L853.7,655.9L854.3,656.3L854.8,656.6L855.3,656.9L855.9,657.2L856.5,657.4L857.1,657.6L857.6,657.7L858.1,657.9L858.5,658L858.8,658.1" fill="none" stroke="#fff" stroke-width="0.8" stroke-linecap="round" stroke-linejoin="round"/><path d="M906.9,656.46A9.4,5.42 -60 1 1 897.5,672.74A9.4,5.42 -60 1 1 906.9,656.46Z" fill="#fff" stroke="#1e1e1e" stroke-width="1.32" stroke-linecap="round" stroke-linejoin="round" /><path d="M907.9,657.06A9.4,5.42 -60 1 1 898.5,673.34A9.4,5.42 -60 1 1 907.9,657.06Z" fill="#fff" stroke="#1e1e1e" stroke-width="2.2" stroke-linecap="round" stroke-linejoin="round" /><path d="M905.95,661.16A4.9,2.83 -60 1 1 901.05,669.64A4.9,2.83 -60 1 1 905.95,661.16Z" fill="none" stroke="#1e1e1e" stroke-width="2.09" stroke-linecap="round" stroke-linejoin="round" /><path d="M643.2,180.2L640.3,181.9L643.5,181.9L643.5,182.9L640.1,186.4L643.1,186.9L643,187.9L639.5,191L642.3,192L642.1,193.1L638.5,195.8L641.1,197.3L640.8,198.3L637.1,200.6L639.5,202.6L639.1,203.6L635.4,205.5L637.4,207.9L637,208.9L633.4,210.4L635,213.1L634.5,214.2L631,215.1L632.3,218.3L631.7,219.3L628.3,219.7L629.3,223.2L628.7,224.2L625.4,224.2L626,228L625.3,228.9L622.3,228.4L622.5,232.4L621.7,233.3L618.9,232.3L618.7,236.6L617.9,237.4L615.4,235.9L614.8,240.3L614,241.1L611.7,239.1L610.8,243.7L610,244.3L608,241.9L606.7,246.6L605.9,247.1L604.2,244.3L602.6,249L601.8,249.5L600.5,246.3L598.5,251L597.7,251.3L596.7,247.7L594.5,252.3L593.7,252.6L593.1,248.7L590.5,253.2L589.8,253.3L589.6,249.2L586.8,253.5L586,253.5L586.2,249.2L583.2,253.2L582.5,253.1L583.1,248.6L579.8,252.4L579.2,252.2L580.1,247.6L576.7,251L576.1,250.7L577.5,246L573.9,249.2L573.4,248.7L575.1,244L571.5,246.8L571,246.2L573,241.5L569.4,243.9L569,243.2L571.3,238.6L567.7,240.5L567.4,239.8L570,235.4L566.4,236.8L566.2,236L569,231.7L565.5,232.7L565.3,231.8L568.4,227.8L565,228.2L565,227.3L568.2,223.5L565.3,225.2Z" fill="#fff" stroke="#1e1e1e" stroke-width="1.1" stroke-linecap="round" stroke-linejoin="round" /><path d="M648,183L645,184.7L648.3,184.7L648.2,185.7L644.8,189.1L647.9,189.7L647.8,190.7L644.2,193.8L647.1,194.8L646.9,195.8L643.3,198.5L645.9,200L645.6,201.1L641.9,203.4L644.2,205.3L643.8,206.4L640.2,208.3L642.2,210.6L641.7,211.7L638.1,213.1L639.8,215.9L639.3,216.9L635.8,217.9L637.1,221L636.5,222L633.1,222.5L634.1,226L633.4,227L630.2,226.9L630.8,230.7L630.1,231.6L627,231.1L627.2,235.2L626.5,236L623.7,235L623.5,239.3L622.7,240.1L620.1,238.6L619.6,243.1L618.8,243.8L616.5,241.8L615.6,246.5L614.7,247.1L612.8,244.7L611.5,249.4L610.6,249.9L609,247.1L607.4,251.8L606.5,252.2L605.2,249L603.3,253.7L602.4,254L601.5,250.5L599.2,255.1L598.4,255.3L597.9,251.5L595.3,255.9L594.5,256L594.3,251.9L591.5,256.2L590.8,256.2L591,251.9L587.9,256L587.2,255.9L587.8,251.4L584.6,255.2L583.9,254.9L584.9,250.3L581.5,253.8L580.9,253.5L582.2,248.8L578.7,251.9L578.2,251.5L579.9,246.8L576.3,249.5L575.8,249L577.8,244.3L574.2,246.6L573.8,246L576.1,241.4L572.4,243.3L572.1,242.6L574.7,238.1L571.1,239.5L570.9,238.8L573.8,234.5L570.2,235.4L570.1,234.6L573.2,230.5L569.8,231L569.7,230.1L573,226.3L570,228Z" fill="#fff" stroke="#1e1e1e" stroke-width="1.1" stroke-linecap="round" stroke-linejoin="round" /><path d="M565.3,225.2L643.2,180.2L648,183L570,228Z" fill="#fff" stroke="#1e1e1e" stroke-width="1.21" stroke-linecap="round" stroke-linejoin="round" /><path d="M565.3,225.2L563.8,235.2" fill="none" stroke="#1e1e1e" stroke-width="1.21" stroke-linecap="round" stroke-linejoin="round" /><path d="M589.6,212.3L593.5,210.1L596.6,211.8L592.7,214.1Z" fill="#fff" stroke="#1e1e1e" stroke-width="1.1" stroke-linecap="round" stroke-linejoin="round" /><path d="M627.8,190.3L631.7,188L634.8,189.8L630.9,192Z" fill="#fff" stroke="#1e1e1e" stroke-width="1.1" stroke-linecap="round" stroke-linejoin="round" /><path d="M642.4,214.6L613,197.6L612.5,197.4L612,197.3L611.5,197.2L611,197.2L610.5,197.3L609.9,197.5L609.3,197.8L608.7,198.1L608.1,198.5L607.5,198.9L607,199.4L606.4,200L605.9,200.6L605.4,201.3L605,202L604.6,202.7L604.2,203.4L603.9,204.2L603.6,204.9L603.4,205.7L603.2,206.4L603.1,207.2L603.1,207.9L603.1,208.5L603.1,209.2L603.3,209.8L603.5,210.3L603.7,210.8L604,211.2L604.4,211.5L604.8,211.8L634.2,228.8Z" fill="#fff" stroke="#1e1e1e" stroke-width="1.26" stroke-linecap="round" stroke-linejoin="round" /><path d="M642.4,214.6A8.2,4.73 -60 1 1 634.2,228.8A8.2,4.73 -60 1 1 642.4,214.6Z" fill="#fff" stroke="#1e1e1e" stroke-width="1.26" stroke-linecap="round" stroke-linejoin="round" /><path d="M594.3,200.5L602.3,191.3L611.2,196.7L611.2,209L607.3,214.3L595.8,205.4Z" fill="#fff" stroke="#1e1e1e" stroke-width="1.26" stroke-linecap="round" stroke-linejoin="round" /><path d="M602.3,191.3L611.2,196.7" fill="none" stroke="#1e1e1e" stroke-width="1.21" stroke-linecap="round" stroke-linejoin="round" /><path d="M608.8,215.3L608.4,215.1L608,214.8L607.7,214.4L607.4,214L607.2,213.5L607,212.9L606.9,212.3L606.8,211.6L606.8,210.9L606.9,210.2L607.1,209.4L607.2,208.7L607.5,207.9L607.8,207.1L608.1,206.4L608.6,205.6L609,204.9L609.5,204.2L610,203.5L610.6,202.9L611.1,202.4L611.7,201.9L612.3,201.5L612.9,201.1L613.5,200.8L614.1,200.6L614.7,200.5L615.2,200.4L615.8,200.5L616.3,200.6L616.7,200.7L617.1,201" fill="none" stroke="#1e1e1e" stroke-width="1.43" stroke-linecap="round" stroke-linejoin="round" /><path d="M612.5,217.4L612.1,217.2L611.7,216.9L611.4,216.5L611.1,216.1L610.9,215.6L610.7,215L610.6,214.4L610.5,213.7L610.5,213L610.6,212.3L610.8,211.5L610.9,210.8L611.2,210L611.5,209.2L611.8,208.5L612.3,207.7L612.7,207L613.2,206.3L613.7,205.6L614.3,205L614.8,204.5L615.4,204L616,203.6L616.6,203.2L617.2,202.9L617.8,202.7L618.4,202.6L618.9,202.5L619.5,202.6L620,202.7L620.4,202.8L620.8,203.1" fill="none" stroke="#1e1e1e" stroke-width="1.21" stroke-linecap="round" stroke-linejoin="round" /><path d="M625.7,226L625.3,225.8L624.9,225.5L624.6,225.1L624.3,224.7L624.1,224.2L623.9,223.6L623.8,223L623.7,222.3L623.7,221.6L623.8,220.9L624,220.1L624.1,219.4L624.4,218.6L624.7,217.8L625,217.1L625.5,216.3L625.9,215.6L626.4,214.9L626.9,214.2L627.5,213.6L628,213.1L628.6,212.6L629.2,212.2L629.8,211.8L630.4,211.5L631,211.3L631.6,211.2L632.1,211.1L632.7,211.2L633.2,211.3L633.6,211.4L634,211.7" fill="none" stroke="#1e1e1e" stroke-width="2.09" stroke-linecap="round" stroke-linejoin="round" /><path d="M627.3,226.5L626.8,226.3L626.4,226L626.1,225.6L625.8,225.2L625.6,224.6L625.4,224.1L625.3,223.5L625.3,222.8L625.3,222.1L625.3,221.4L625.5,220.6L625.7,219.9L625.9,219.1L626.2,218.3L626.6,217.5L627,216.8L627.4,216.1L627.9,215.4L628.4,214.7L629,214.1L629.5,213.6L630.1,213.1L630.7,212.6L631.3,212.3L631.9,212L632.5,211.8L633.1,211.7L633.6,211.6L634.2,211.6L634.7,211.7L635.1,211.9L635.5,212.2" fill="none" stroke="#1e1e1e" stroke-width="1.38" stroke-linecap="round" stroke-linejoin="round" /><path d="M628.8,227L628.4,226.8L628,226.5L627.6,226.1L627.3,225.6L627.1,225.1L626.9,224.6L626.8,223.9L626.8,223.3L626.8,222.6L626.9,221.9L627,221.1L627.2,220.3L627.4,219.6L627.7,218.8L628.1,218L628.5,217.3L628.9,216.5L629.4,215.9L629.9,215.2L630.5,214.6L631.1,214L631.6,213.6L632.2,213.1L632.8,212.8L633.4,212.5L634,212.3L634.6,212.1L635.2,212.1L635.7,212.1L636.2,212.2L636.7,212.4L637.1,212.7" fill="none" stroke="#1e1e1e" stroke-width="1.38" stroke-linecap="round" stroke-linejoin="round" /><path d="M630.3,227.5L629.9,227.2L629.5,226.9L629.1,226.6L628.9,226.1L628.6,225.6L628.5,225L628.3,224.4L628.3,223.8L628.3,223.1L628.4,222.3L628.5,221.6L628.7,220.8L629,220L629.3,219.3L629.6,218.5L630,217.7L630.5,217L630.9,216.3L631.5,215.7L632,215.1L632.6,214.5L633.2,214L633.8,213.6L634.4,213.2L635,213L635.6,212.8L636.1,212.6L636.7,212.6L637.2,212.6L637.7,212.7L638.2,212.9L638.6,213.1" fill="none" stroke="#1e1e1e" stroke-width="1.38" stroke-linecap="round" stroke-linejoin="round" /><path d="M631.8,228L631.4,227.7L631,227.4L630.7,227L630.4,226.6L630.2,226.1L630,225.5L629.9,224.9L629.8,224.2L629.8,223.5L629.9,222.8L630,222.1L630.2,221.3L630.5,220.5L630.8,219.7L631.1,219L631.5,218.2L632,217.5L632.5,216.8L633,216.2L633.5,215.6L634.1,215L634.7,214.5L635.3,214.1L635.9,213.7L636.5,213.4L637.1,213.2L637.7,213.1L638.2,213L638.7,213.1L639.2,213.2L639.7,213.4L640.1,213.6" fill="none" stroke="#1e1e1e" stroke-width="1.38" stroke-linecap="round" stroke-linejoin="round" /><path d="M633.3,228.4L632.9,228.2L632.5,227.9L632.2,227.5L631.9,227.1L631.7,226.6L631.5,226L631.4,225.4L631.3,224.7L631.3,224L631.4,223.3L631.6,222.5L631.7,221.8L632,221L632.3,220.2L632.6,219.5L633.1,218.7L633.5,218L634,217.3L634.5,216.6L635.1,216L635.6,215.5L636.2,215L636.8,214.6L637.4,214.2L638,213.9L638.6,213.7L639.2,213.6L639.7,213.5L640.3,213.6L640.8,213.7L641.2,213.8L641.6,214.1" fill="none" stroke="#1e1e1e" stroke-width="1.38" stroke-linecap="round" stroke-linejoin="round" /><path d="M626.1,226L631.5,227.1" fill="none" stroke="#fff" stroke-width="0.9"/><path d="M625.2,224.4L630.6,225.5" fill="none" stroke="#fff" stroke-width="0.9"/><path d="M625,222.2L630.4,223.3" fill="none" stroke="#fff" stroke-width="0.9"/><path d="M625.5,219.6L630.9,220.7" fill="none" stroke="#fff" stroke-width="0.9"/><path d="M626.7,217L632.1,218.1" fill="none" stroke="#fff" stroke-width="0.9"/><path d="M628.4,214.7L633.8,215.8" fill="none" stroke="#fff" stroke-width="0.9"/><path d="M630.3,213L635.7,214.1" fill="none" stroke="#fff" stroke-width="0.9"/><path d="M632.3,212.1L637.7,213.2" fill="none" stroke="#fff" stroke-width="0.9"/><path d="M634.1,212L639.5,213.1" fill="none" stroke="#fff" stroke-width="0.9"/><path d="M653.9,220.9L645.4,216L645,215.8L644.6,215.7L644.1,215.7L643.6,215.7L643.1,215.8L642.6,215.9L642,216.2L641.5,216.5L640.9,216.8L640.4,217.3L639.9,217.7L639.4,218.3L638.9,218.8L638.4,219.4L638,220.1L637.6,220.7L637.3,221.4L637,222.1L636.7,222.8L636.5,223.5L636.4,224.2L636.3,224.9L636.2,225.5L636.3,226.2L636.3,226.7L636.4,227.3L636.6,227.8L636.9,228.2L637.1,228.6L637.4,228.9L637.8,229.2L646.3,234.1Z" fill="#fff" stroke="#1e1e1e" stroke-width="1.32" stroke-linecap="round" stroke-linejoin="round" /><path d="M653.9,220.92A7.6,4.39 -60 1 1 646.3,234.08A7.6,4.39 -60 1 1 653.9,220.92Z" fill="#fff" stroke="#1e1e1e" stroke-width="1.32" stroke-linecap="round" stroke-linejoin="round" /><path d="M638.5,229.6L638.1,229.3L637.8,229L637.5,228.6L637.3,228.2L637.1,227.7L636.9,227.2L636.9,226.6L636.8,226L636.9,225.3L637,224.6L637.1,223.9L637.3,223.2L637.6,222.5L637.9,221.8L638.2,221.1L638.6,220.4L639,219.7L639.5,219.1L640,218.5L640.5,218L641.1,217.5L641.6,217.1L642.2,216.7L642.7,216.4L643.3,216.2L643.8,216.1L644.3,216L644.8,216L645.3,216L645.7,216.2L646.1,216.4" fill="none" stroke="#1e1e1e" stroke-width="1.43" stroke-linecap="round" stroke-linejoin="round" /><path d="M639.8,230.4L639.4,230.1L639.1,229.8L638.8,229.4L638.6,229L638.4,228.5L638.2,228L638.2,227.4L638.1,226.8L638.2,226.1L638.3,225.4L638.4,224.7L638.6,224L638.9,223.3L639.2,222.6L639.5,221.9L639.9,221.2L640.3,220.5L640.8,219.9L641.3,219.3L641.8,218.8L642.4,218.3L642.9,217.9L643.5,217.5L644,217.2L644.6,217L645.1,216.9L645.6,216.8L646.1,216.8L646.6,216.8L647,217L647.4,217.2" fill="none" stroke="#1e1e1e" stroke-width="1.43" stroke-linecap="round" stroke-linejoin="round" /><path d="M641.1,231.1L640.7,230.8L640.4,230.5L640.1,230.1L639.9,229.7L639.7,229.2L639.5,228.7L639.5,228.1L639.4,227.5L639.5,226.8L639.6,226.1L639.7,225.4L639.9,224.7L640.2,224L640.5,223.3L640.8,222.6L641.2,221.9L641.6,221.2L642.1,220.6L642.6,220L643.1,219.5L643.7,219L644.2,218.6L644.8,218.2L645.3,217.9L645.9,217.7L646.4,217.6L646.9,217.5L647.4,217.5L647.9,217.5L648.3,217.7L648.7,217.9" fill="none" stroke="#1e1e1e" stroke-width="1.43" stroke-linecap="round" stroke-linejoin="round" /><path d="M746.9,234.51A42.6,24.58 -60 1 1 704.3,308.29A42.6,24.58 -60 1 1 746.9,234.51Z" fill="#fff" stroke="#1e1e1e" stroke-width="1.21" stroke-linecap="round" stroke-linejoin="round" /><path d="M745.7,236.59A40.2,23.2 -60 1 1 705.5,306.21A40.2,23.2 -60 1 1 745.7,236.59Z" fill="none" stroke="#1e1e1e" stroke-width="0.94" stroke-linecap="round" stroke-linejoin="round" /><path d="M744.3,239.01A37.4,21.58 -60 1 1 706.9,303.79A37.4,21.58 -60 1 1 744.3,239.01Z" fill="none" stroke="#1e1e1e" stroke-width="0.94" stroke-linecap="round" stroke-linejoin="round" /><path d="M742.9,241.44A34.6,19.96 -60 1 1 708.3,301.36A34.6,19.96 -60 1 1 742.9,241.44Z" fill="none" stroke="#1e1e1e" stroke-width="0.94" stroke-linecap="round" stroke-linejoin="round" /><path d="M741.4,244.03A31.6,18.23 -60 1 1 709.8,298.77A31.6,18.23 -60 1 1 741.4,244.03Z" fill="none" stroke="#1e1e1e" stroke-width="0.94" stroke-linecap="round" stroke-linejoin="round" /><path d="M739.9,246.63A28.6,16.5 -60 1 1 711.3,296.17A28.6,16.5 -60 1 1 739.9,246.63Z" fill="none" stroke="#1e1e1e" stroke-width="0.94" stroke-linecap="round" stroke-linejoin="round" /><path d="M738.2,249.58A25.2,14.54 -60 1 1 713,293.22A25.2,14.54 -60 1 1 738.2,249.58Z" fill="none" stroke="#1e1e1e" stroke-width="1.1" stroke-linecap="round" stroke-linejoin="round" /><path d="M733.5,247.2L734.9,247.7L736.2,248.4L737.3,249.4L738.3,250.5L739.2,251.9L739.8,253.5L740.3,255.2L740.7,257L740.8,259L740.8,261.2L740.5,263.4L740.1,265.6L739.6,267.9L738.8,270.3L737.9,272.6L736.8,274.9L735.6,277.2L734.3,279.3L732.8,281.4L731.2,283.4L729.6,285.2L727.9,286.9L726.1,288.4L724.3,289.7L722.5,290.7L720.7,291.6L718.9,292.3L717.2,292.7L715.5,292.9L713.9,292.8L712.4,292.6L711,292L709.7,291.3L708.6,290.3" fill="none" stroke="#1e1e1e" stroke-width="0.94" stroke-linecap="round" stroke-linejoin="round" /><path d="M731.6,245.9L733,246.6L734.2,247.4L735.3,248.5L736.2,249.7L736.9,251.2L737.5,252.8L737.9,254.6L738.2,256.5L738.2,258.6L738.1,260.8L737.8,263L737.3,265.3L736.6,267.6L735.8,270L734.8,272.3L733.6,274.6L732.3,276.8L730.9,278.9L729.4,280.9L727.8,282.8L726.1,284.6L724.4,286.1L722.6,287.5L720.8,288.7L719,289.7L717.2,290.5L715.5,291L713.8,291.3L712.1,291.4L710.6,291.2L709.1,290.8L707.8,290.2L706.6,289.3" fill="none" stroke="#1e1e1e" stroke-width="0.94" stroke-linecap="round" stroke-linejoin="round" /><path d="M730,236.2L728.1,237.1L725.7,238.3L722.7,239.8L719.4,241.4L716,243.1L712.5,244.8L709.1,246.4L706,248L702.9,249.5L699.7,251.2L696.4,252.9L693.2,254.6L690.1,256.2L687.3,257.6L684.9,258.8L683,259.7L681.7,260.3L680.9,260.6L680.4,260.7L680.3,260.6L680.3,260.4L680.3,260.1L680.4,259.8L680.2,259.6L679.9,259.4L679.7,259.1L679.4,258.8L679.2,258.4L679,258L678.8,257.6L678.7,257.1L678.6,256.6L678.6,256L678.6,255.4L678.6,254.7L678.7,253.9L678.8,253.2L679,252.4L679.3,251.7L679.6,251L680,250.3L680.5,249.7L681.1,249L681.8,248.4L682.5,247.8L683.2,247.2L683.9,246.7L684.6,246.2L685.3,245.8L686.2,245.4L687,245.1L687.9,244.8L688.7,244.5L689.5,244.3L690.1,244.2L690.6,244" fill="none" stroke="#1e1e1e" stroke-width="2.42" stroke-linecap="round" stroke-linejoin="round" /><path d="M730,236.2L728.1,237.1L725.7,238.3L722.7,239.8L719.4,241.4L716,243.1L712.5,244.8L709.1,246.4L706,248L702.9,249.5L699.7,251.2L696.4,252.9L693.2,254.6L690.1,256.2L687.3,257.6L684.9,258.8L683,259.7L681.7,260.3L680.9,260.6L680.4,260.7L680.3,260.6L680.3,260.4L680.3,260.1L680.4,259.8L680.2,259.6L679.9,259.4L679.7,259.1L679.4,258.8L679.2,258.4L679,258L678.8,257.6L678.7,257.1L678.6,256.6L678.6,256L678.6,255.4L678.6,254.7L678.7,253.9L678.8,253.2L679,252.4L679.3,251.7L679.6,251L680,250.3L680.5,249.7L681.1,249L681.8,248.4L682.5,247.8L683.2,247.2L683.9,246.7L684.6,246.2L685.3,245.8L686.2,245.4L687,245.1L687.9,244.8L688.7,244.5L689.5,244.3L690.1,244.2L690.6,244" fill="none" stroke="#fff" stroke-width="0.8" stroke-linecap="round" stroke-linejoin="round"/><path d="M790.5,294.3L773.2,284.3L772.6,284L771.9,283.8L771.1,283.7L770.4,283.8L769.6,283.9L768.8,284.2L767.9,284.5L767.1,285L766.2,285.6L765.4,286.2L764.6,286.9L763.8,287.8L763.1,288.6L762.3,289.6L761.7,290.6L761.1,291.6L760.6,292.7L760.1,293.8L759.7,294.9L759.4,295.9L759.2,297L759,298.1L758.9,299.1L759,300L759.1,300.9L759.3,301.8L759.5,302.5L759.9,303.2L760.3,303.8L760.8,304.3L761.4,304.7L778.7,314.7Z" fill="#fff" stroke="#1e1e1e" stroke-width="1.26" stroke-linecap="round" stroke-linejoin="round" /><path d="M790.5,294.28A11.8,6.81 -60 1 1 778.7,314.72A11.8,6.81 -60 1 1 790.5,294.28Z" fill="#fff" stroke="#1e1e1e" stroke-width="1.26" stroke-linecap="round" stroke-linejoin="round" /><path d="M789.25,296.45A9.3,5.37 -60 1 1 779.95,312.55A9.3,5.37 -60 1 1 789.25,296.45Z" fill="none" stroke="#1e1e1e" stroke-width="1.26" stroke-linecap="round" stroke-linejoin="round" /><path d="M785.4,295.2L786,295.2L786.5,295.3L787,295.5L787.5,295.8L787.9,296.2L788.2,296.6L788.5,297.1L788.8,297.7L788.9,298.3L789,299L789.1,299.8L789,300.6L788.9,301.4L788.7,302.2L788.5,303.1L788.2,303.9L787.8,304.8L787.4,305.6L787,306.4L786.4,307.2L785.9,307.9L785.3,308.6L784.7,309.2L784,309.8L783.4,310.3L782.7,310.7L782.1,311.1L781.4,311.3L780.8,311.5L780.2,311.6L779.6,311.6L779,311.5L778.5,311.3L778,311.1L777.6,310.8L777.2,310.3L776.9,309.8" fill="none" stroke="#1e1e1e" stroke-width="1.14" stroke-linecap="round" stroke-linejoin="round" /><path d="M825.2,316.1A11.2,6.46 -60 1 1 814,335.5A11.2,6.46 -60 1 1 825.2,316.1Z" fill="#fff" stroke="#1e1e1e" stroke-width="0.99" stroke-linecap="round" stroke-linejoin="round" /><path d="M826.7,316.73A11.4,6.58 -60 1 1 815.3,336.47A11.4,6.58 -60 1 1 826.7,316.73Z" fill="#fff" stroke="#1e1e1e" stroke-width="1.26" stroke-linecap="round" stroke-linejoin="round" /><path d="M825.5,318.81A9,5.19 -60 1 1 816.5,334.39A9,5.19 -60 1 1 825.5,318.81Z" fill="none" stroke="#1e1e1e" stroke-width="1.1" stroke-linecap="round" stroke-linejoin="round" /><path d="M836.8,346.1L836.7,345.2L836.8,344.3L836.9,343.4L837.1,342.4L837.3,341.4L837.7,340.4L838.1,339.4L838.5,338.5L839.1,337.5L839.6,336.6L840.3,335.8L840.9,335L841.7,334.2L842.4,333.5L843.1,332.9L843.9,332.4L844.7,332L845.4,331.7L846.2,331.5L846.9,331.3L847.6,331.3L848.2,331.4L848.8,331.6L849.4,331.9L849.9,332.2L850.3,332.7L850.7,333.3L851,333.9L851.2,334.6L851.4,335.4L851.4,336.2L851.4,337.1L851.3,338.1L851.2,339L850.9,340L850.6,341L850.2,342L849.8,343L849.2,343.9L848.7,344.8L848,345.7L847.4,346.5L846.7,347.3L845.9,348L845.2,348.6L844.4,349.1L843.7,349.5L842.9,349.9L842.2,350.1L841.4,350.3L840.7,350.3L840.1,350.2L839.5,350.1L838.9,349.8L838.4,349.4L837.9,349L837.5,348.4L837.2,347.8" fill="none" stroke="#1e1e1e" stroke-width="2.42" stroke-linecap="round" stroke-linejoin="round" /><path d="M836.7,346.2L837.6,346" fill="none" stroke="#1e1e1e" stroke-width="3.08" stroke-linecap="round" stroke-linejoin="round" /><path d="M837.1,347.9L837.7,346.7" fill="none" stroke="#1e1e1e" stroke-width="3.08" stroke-linecap="round" stroke-linejoin="round" /><g fill="none" stroke="#1e1e1e" stroke-linecap="round" stroke-linejoin="round"><path transform="translate(593.8,379.3) scale(1)" stroke-width="1.25" d="M3,-14.5C1,-11.5 0,-8.5 0,-5C0,-1.5 1,1.5 3,4.5"/><path transform="translate(599.2,379.3) scale(1)" stroke-width="1.25" d="M3.6,-8.4C1.4,-8.4 0,-6.6 0,-4.2C0,-1.8 1.4,0 3.6,0C5.8,0 7.2,-1.8 7.2,-4.2C7.2,-6.6 5.8,-8.4 3.6,-8.4Z"/><path transform="translate(608.2,379.3) scale(1)" stroke-width="1.25" d="M0,-8.4V4M0,-4.2C0,-6.6 1.4,-8.4 3.6,-8.4C5.8,-8.4 7.2,-6.6 7.2,-4.2C7.2,-1.8 5.8,0 3.6,0C1.4,0 0,-1.8 0,-4.2"/><path transform="translate(617.9,379.3) scale(1)" stroke-width="1.25" d="M2,-12.5V-1.5C2,-0.5 2.6,0 3.6,0H4.5M0,-8.4H4.5"/><path transform="translate(624.4,379.3) scale(1)" stroke-width="1.25" d="M0,-8.4V0M0,-12.2V-11.4"/><path transform="translate(627,379.3) scale(1)" stroke-width="1.25" d="M3.6,-8.4C1.4,-8.4 0,-6.6 0,-4.2C0,-1.8 1.4,0 3.6,0C5.8,0 7.2,-1.8 7.2,-4.2C7.2,-6.6 5.8,-8.4 3.6,-8.4Z"/><path transform="translate(636.6,379.3) scale(1)" stroke-width="1.25" d="M0,-8.4V0M0,-5C0.6,-7.2 1.8,-8.4 3.4,-8.4C5,-8.4 6,-7.2 6,-5.2V0"/><path transform="translate(641.9,379.3) scale(1)" stroke-width="1.25" d="M6,-8.4V0M6,-4.2C6,-6.6 4.8,-8.4 3,-8.4C1.2,-8.4 0,-6.6 0,-4.2C0,-1.8 1.2,0 3,0C4.8,0 6,-1.8 6,-4.2"/><path transform="translate(648.8,379.3) scale(1)" stroke-width="1.25" d="M0,-13.6V0"/><path transform="translate(664,379.3) scale(1)" stroke-width="1.25" d="M7.2,-13.6V0M7.2,-4.2C7.2,-6.6 5.8,-8.4 3.6,-8.4C1.4,-8.4 0,-6.6 0,-4.2C0,-1.8 1.4,0 3.6,0C5.8,0 7.2,-1.8 7.2,-4.2"/><path transform="translate(674.3,379.3) scale(1)" stroke-width="1.25" d="M0,-4.4H7.4C7.4,-6.8 6,-8.4 3.8,-8.4C1.5,-8.4 0,-6.6 0,-4.2C0,-1.8 1.5,0 3.8,0C5.4,0 6.6,-0.8 7.2,-2.2"/><path transform="translate(683.5,379.3) scale(1)" stroke-width="1.25" d="M0,-8.4L3.8,0L7.6,-8.4"/><path transform="translate(693.6,379.3) scale(1)" stroke-width="1.25" d="M0,-8.4V0M0,-12.2V-11.4"/><path transform="translate(695.8,379.3) scale(1)" stroke-width="1.25" d="M7,-6.4C6.4,-7.6 5.3,-8.4 3.8,-8.4C1.5,-8.4 0,-6.6 0,-4.2C0,-1.8 1.5,0 3.8,0C5.3,0 6.4,-0.8 7,-2"/><path transform="translate(704.6,379.3) scale(1)" stroke-width="1.25" d="M0,-4.4H7.4C7.4,-6.8 6,-8.4 3.8,-8.4C1.5,-8.4 0,-6.6 0,-4.2C0,-1.8 1.5,0 3.8,0C5.4,0 6.6,-0.8 7.2,-2.2"/><path transform="translate(712.3,379.3) scale(1)" stroke-width="1.25" d="M0,-14.5C2,-11.5 3,-8.5 3,-5C3,-1.5 2,1.5 0,4.5"/></g><path d="M207.6,597L232.4,563.1L232.4,573.4L256,561L256,579.3L232.4,592.3L232.4,603.3Z" fill="none" stroke="#1e1e1e" stroke-width="1.43" stroke-linecap="round" stroke-linejoin="round" /><path d="M268.2,575.3L269.2,556.9L278.1,552.2M268.6,566.6L275.9,562.8" fill="none" stroke="#1e1e1e" stroke-width="1.43" stroke-linecap="round" stroke-linejoin="round" /><path d="M281.8,568.7V550.2L287.5,547.2C290,546 292,547.2 292.1,549.5C292.2,552 291,554.3 288.5,555.7L281.8,559.1M286.4,556.9L291.4,562.8" fill="none" stroke="#1e1e1e" stroke-width="1.43" stroke-linecap="round" stroke-linejoin="round" /><path d="M296.1,558.8V559.6" fill="none" stroke="#1e1e1e" stroke-width="1.65" stroke-linecap="round" stroke-linejoin="round" /><g fill="none" stroke="#1e1e1e" stroke-linecap="round" stroke-linejoin="round"><path transform="translate(207.5,148.2) scale(1.05)" stroke-width="1.24" d="M2.1,2.4L4.2,0V12M1.6,12H6.8"/></g><g fill="none" stroke="#1e1e1e" stroke-linecap="round" stroke-linejoin="round"><path transform="translate(276.5,187.5) scale(1.05)" stroke-width="1.24" d="M0.6,3C0.6,1.2 2,0 4,0C6,0 7.4,1.2 7.4,3C7.4,4.6 6.4,5.8 4.6,7.4L0.3,12H7.8"/></g><g fill="none" stroke="#1e1e1e" stroke-linecap="round" stroke-linejoin="round"><path transform="translate(314.8,217) scale(1.05)" stroke-width="1.24" d="M0.7,2.4C1.1,0.9 2.3,0 4,0C5.9,0 7.2,1.1 7.2,2.8C7.2,4.5 5.9,5.5 3.6,5.5C6.2,5.5 7.7,6.7 7.7,8.7C7.7,10.7 6.2,12 4,12C2,12 0.7,11 0.3,9.4"/></g><g fill="none" stroke="#1e1e1e" stroke-linecap="round" stroke-linejoin="round"><path transform="translate(335.6,230.2) scale(1.05)" stroke-width="1.24" d="M5.8,12V0L0.2,8.6H8"/></g><g fill="none" stroke="#1e1e1e" stroke-linecap="round" stroke-linejoin="round"><path transform="translate(372.8,251.8) scale(1.05)" stroke-width="1.24" d="M0.7,2.4C1.1,0.9 2.3,0 4,0C5.9,0 7.2,1.1 7.2,2.8C7.2,4.5 5.9,5.5 3.6,5.5C6.2,5.5 7.7,6.7 7.7,8.7C7.7,10.7 6.2,12 4,12C2,12 0.7,11 0.3,9.4"/></g><g fill="none" stroke="#1e1e1e" stroke-linecap="round" stroke-linejoin="round"><path transform="translate(418.5,280.4) scale(1.05)" stroke-width="1.24" d="M7,0H1.4L0.7,5.4C1.5,4.6 2.6,4.2 3.9,4.2C6.2,4.2 7.7,5.7 7.7,8C7.7,10.4 6.2,12 3.9,12C2,12 0.8,11 0.3,9.6"/></g><g fill="none" stroke="#1e1e1e" stroke-linecap="round" stroke-linejoin="round"><path transform="translate(283,424.5) scale(1.05)" stroke-width="1.24" d="M0.7,2.4C1.1,0.9 2.3,0 4,0C5.9,0 7.2,1.1 7.2,2.8C7.2,4.5 5.9,5.5 3.6,5.5C6.2,5.5 7.7,6.7 7.7,8.7C7.7,10.7 6.2,12 4,12C2,12 0.7,11 0.3,9.4"/></g><g fill="none" stroke="#1e1e1e" stroke-linecap="round" stroke-linejoin="round"><path transform="translate(485.6,311) scale(1.05)" stroke-width="1.24" d="M6.9,1.6C6.4,0.6 5.5,0 4.3,0C1.8,0 0.5,2.4 0.5,6.6C0.5,10.1 1.8,12 4.1,12C6.2,12 7.6,10.5 7.6,8.3C7.6,6.1 6.2,4.7 4.2,4.7C2.2,4.7 0.7,6.1 0.5,8"/></g><g fill="none" stroke="#1e1e1e" stroke-linecap="round" stroke-linejoin="round"><path transform="translate(527.8,336.5) scale(1.05)" stroke-width="1.24" d="M0.3,0H7.7L3.2,12"/></g><g fill="none" stroke="#1e1e1e" stroke-linecap="round" stroke-linejoin="round"><path transform="translate(560.66,367.5) scale(1.05)" stroke-width="1.24" d="M0.6,3C0.6,1.2 2,0 4,0C6,0 7.4,1.2 7.4,3C7.4,4.6 6.4,5.8 4.6,7.4L0.3,12H7.8"/><path transform="translate(570.74,367.5) scale(1.05)" stroke-width="1.24" d="M2.1,2.4L4.2,0V12M1.6,12H6.8"/></g><g fill="none" stroke="#1e1e1e" stroke-linecap="round" stroke-linejoin="round"><path transform="translate(614.9,399.8) scale(1.05)" stroke-width="1.24" d="M4,0C2.1,0 0.9,1.1 0.9,2.8C0.9,4.5 2.1,5.5 4,5.5C5.9,5.5 7.1,4.5 7.1,2.8C7.1,1.1 5.9,0 4,0ZM4,5.5C1.8,5.5 0.4,6.8 0.4,8.7C0.4,10.7 1.8,12 4,12C6.2,12 7.6,10.7 7.6,8.7C7.6,6.8 6.2,5.5 4,5.5Z"/></g><g fill="none" stroke="#1e1e1e" stroke-linecap="round" stroke-linejoin="round"><path transform="translate(664.4,427.4) scale(1.05)" stroke-width="1.24" d="M1.1,10.4C1.6,11.4 2.5,12 3.7,12C6.2,12 7.5,9.6 7.5,5.4C7.5,1.9 6.2,0 3.9,0C1.8,0 0.4,1.5 0.4,3.7C0.4,5.9 1.8,7.3 3.8,7.3C5.8,7.3 7.3,5.9 7.5,4"/></g><g fill="none" stroke="#1e1e1e" stroke-linecap="round" stroke-linejoin="round"><path transform="translate(692.26,444.8) scale(1.05)" stroke-width="1.24" d="M2.1,2.4L4.2,0V12M1.6,12H6.8"/><path transform="translate(702.34,444.8) scale(1.05)" stroke-width="1.24" d="M4,0C1.7,0 0.4,2.2 0.4,6C0.4,9.8 1.7,12 4,12C6.3,12 7.6,9.8 7.6,6C7.6,2.2 6.3,0 4,0Z"/></g><g fill="none" stroke="#1e1e1e" stroke-linecap="round" stroke-linejoin="round"><path transform="translate(727.06,465.5) scale(1.05)" stroke-width="1.24" d="M2.1,2.4L4.2,0V12M1.6,12H6.8"/><path transform="translate(737.14,465.5) scale(1.05)" stroke-width="1.24" d="M2.1,2.4L4.2,0V12M1.6,12H6.8"/></g><g fill="none" stroke="#1e1e1e" stroke-linecap="round" stroke-linejoin="round"><path transform="translate(787.46,499) scale(1.05)" stroke-width="1.24" d="M2.1,2.4L4.2,0V12M1.6,12H6.8"/><path transform="translate(797.54,499) scale(1.05)" stroke-width="1.24" d="M0.6,3C0.6,1.2 2,0 4,0C6,0 7.4,1.2 7.4,3C7.4,4.6 6.4,5.8 4.6,7.4L0.3,12H7.8"/></g><g fill="none" stroke="#1e1e1e" stroke-linecap="round" stroke-linejoin="round"><path transform="translate(759.26,673) scale(1.05)" stroke-width="1.24" d="M2.1,2.4L4.2,0V12M1.6,12H6.8"/><path transform="translate(769.34,673) scale(1.05)" stroke-width="1.24" d="M0.7,2.4C1.1,0.9 2.3,0 4,0C5.9,0 7.2,1.1 7.2,2.8C7.2,4.5 5.9,5.5 3.6,5.5C6.2,5.5 7.7,6.7 7.7,8.7C7.7,10.7 6.2,12 4,12C2,12 0.7,11 0.3,9.4"/></g><g fill="none" stroke="#1e1e1e" stroke-linecap="round" stroke-linejoin="round"><path transform="translate(845.16,536.8) scale(1.05)" stroke-width="1.24" d="M2.1,2.4L4.2,0V12M1.6,12H6.8"/><path transform="translate(855.24,536.8) scale(1.05)" stroke-width="1.24" d="M5.8,12V0L0.2,8.6H8"/></g><g fill="none" stroke="#1e1e1e" stroke-linecap="round" stroke-linejoin="round"><path transform="translate(627.36,112.4) scale(1.05)" stroke-width="1.24" d="M2.1,2.4L4.2,0V12M1.6,12H6.8"/><path transform="translate(637.44,112.4) scale(1.05)" stroke-width="1.24" d="M7,0H1.4L0.7,5.4C1.5,4.6 2.6,4.2 3.9,4.2C6.2,4.2 7.7,5.7 7.7,8C7.7,10.4 6.2,12 3.9,12C2,12 0.8,11 0.3,9.6"/></g><g fill="none" stroke="#1e1e1e" stroke-linecap="round" stroke-linejoin="round"><path transform="translate(738.06,147.5) scale(1.05)" stroke-width="1.24" d="M2.1,2.4L4.2,0V12M1.6,12H6.8"/><path transform="translate(748.14,147.5) scale(1.05)" stroke-width="1.24" d="M6.9,1.6C6.4,0.6 5.5,0 4.3,0C1.8,0 0.5,2.4 0.5,6.6C0.5,10.1 1.8,12 4.1,12C6.2,12 7.6,10.5 7.6,8.3C7.6,6.1 6.2,4.7 4.2,4.7C2.2,4.7 0.7,6.1 0.5,8"/></g><g fill="none" stroke="#1e1e1e" stroke-linecap="round" stroke-linejoin="round"><path transform="translate(767.26,194.6) scale(1.05)" stroke-width="1.24" d="M2.1,2.4L4.2,0V12M1.6,12H6.8"/><path transform="translate(777.34,194.6) scale(1.05)" stroke-width="1.24" d="M0.3,0H7.7L3.2,12"/></g><g fill="none" stroke="#1e1e1e" stroke-linecap="round" stroke-linejoin="round"><path transform="translate(813.76,232.3) scale(1.05)" stroke-width="1.24" d="M2.1,2.4L4.2,0V12M1.6,12H6.8"/><path transform="translate(823.84,232.3) scale(1.05)" stroke-width="1.24" d="M4,0C2.1,0 0.9,1.1 0.9,2.8C0.9,4.5 2.1,5.5 4,5.5C5.9,5.5 7.1,4.5 7.1,2.8C7.1,1.1 5.9,0 4,0ZM4,5.5C1.8,5.5 0.4,6.8 0.4,8.7C0.4,10.7 1.8,12 4,12C6.2,12 7.6,10.7 7.6,8.7C7.6,6.8 6.2,5.5 4,5.5Z"/></g><g fill="none" stroke="#1e1e1e" stroke-linecap="round" stroke-linejoin="round"><path transform="translate(837.76,247.5) scale(1.05)" stroke-width="1.24" d="M2.1,2.4L4.2,0V12M1.6,12H6.8"/><path transform="translate(847.84,247.5) scale(1.05)" stroke-width="1.24" d="M1.1,10.4C1.6,11.4 2.5,12 3.7,12C6.2,12 7.5,9.6 7.5,5.4C7.5,1.9 6.2,0 3.9,0C1.8,0 0.4,1.5 0.4,3.7C0.4,5.9 1.8,7.3 3.8,7.3C5.8,7.3 7.3,5.9 7.5,4"/></g><g fill="none" stroke="#1e1e1e" stroke-linecap="round" stroke-linejoin="round"><path transform="translate(897.46,561.5) scale(1.05)" stroke-width="1.24" d="M0.6,3C0.6,1.2 2,0 4,0C6,0 7.4,1.2 7.4,3C7.4,4.6 6.4,5.8 4.6,7.4L0.3,12H7.8"/><path transform="translate(907.54,561.5) scale(1.05)" stroke-width="1.24" d="M4,0C1.7,0 0.4,2.2 0.4,6C0.4,9.8 1.7,12 4,12C6.3,12 7.6,9.8 7.6,6C7.6,2.2 6.3,0 4,0Z"/></g><path d="M211.7,166.5V236.8" stroke="#1e1e1e" stroke-width="1.3" fill="none"/><path d="M280.2,204.2V240.7" stroke="#1e1e1e" stroke-width="1.3" fill="none"/><path d="M318.8,234.2V272" stroke="#1e1e1e" stroke-width="1.3" fill="none"/><path d="M339.8,246.7V295.4" stroke="#1e1e1e" stroke-width="1.3" fill="none"/><path d="M376.7,269.4V325.5" stroke="#1e1e1e" stroke-width="1.3" fill="none"/><path d="M422.7,296.7V337.2" stroke="#1e1e1e" stroke-width="1.3" fill="none"/><path d="M285.3,376.5V423.3" stroke="#1e1e1e" stroke-width="1.3" fill="none"/><path d="M488.8,329V365.5" stroke="#1e1e1e" stroke-width="1.3" fill="none"/><path d="M529.6,351.2V421.5" stroke="#1e1e1e" stroke-width="1.3" fill="none"/><path d="M569.7,385.1V429.4" stroke="#1e1e1e" stroke-width="1.3" fill="none"/><path d="M618.6,415.1V456.3" stroke="#1e1e1e" stroke-width="1.3" fill="none"/><path d="M668.8,444.3V510.2" stroke="#1e1e1e" stroke-width="1.3" fill="none"/><path d="M701.4,462.5V537.5" stroke="#1e1e1e" stroke-width="1.3" fill="none"/><path d="M735.5,483.3V555.9" stroke="#1e1e1e" stroke-width="1.3" fill="none"/><path d="M797.2,515.4V584.2" stroke="#1e1e1e" stroke-width="1.3" fill="none"/><path d="M854.7,554V616.1" stroke="#1e1e1e" stroke-width="1.3" fill="none"/><path d="M636.3,128.3V183" stroke="#1e1e1e" stroke-width="1.3" fill="none"/><path d="M747.1,162.9V228.6" stroke="#1e1e1e" stroke-width="1.3" fill="none"/><path d="M776.3,211.1V283.3" stroke="#1e1e1e" stroke-width="1.3" fill="none"/><path d="M823.5,249.5V310.6" stroke="#1e1e1e" stroke-width="1.3" fill="none"/><path d="M848.5,264.3V321.6" stroke="#1e1e1e" stroke-width="1.3" fill="none"/><path d="M906.7,578.9V650.5" stroke="#1e1e1e" stroke-width="1.3" fill="none"/>
</svg></body></html>
